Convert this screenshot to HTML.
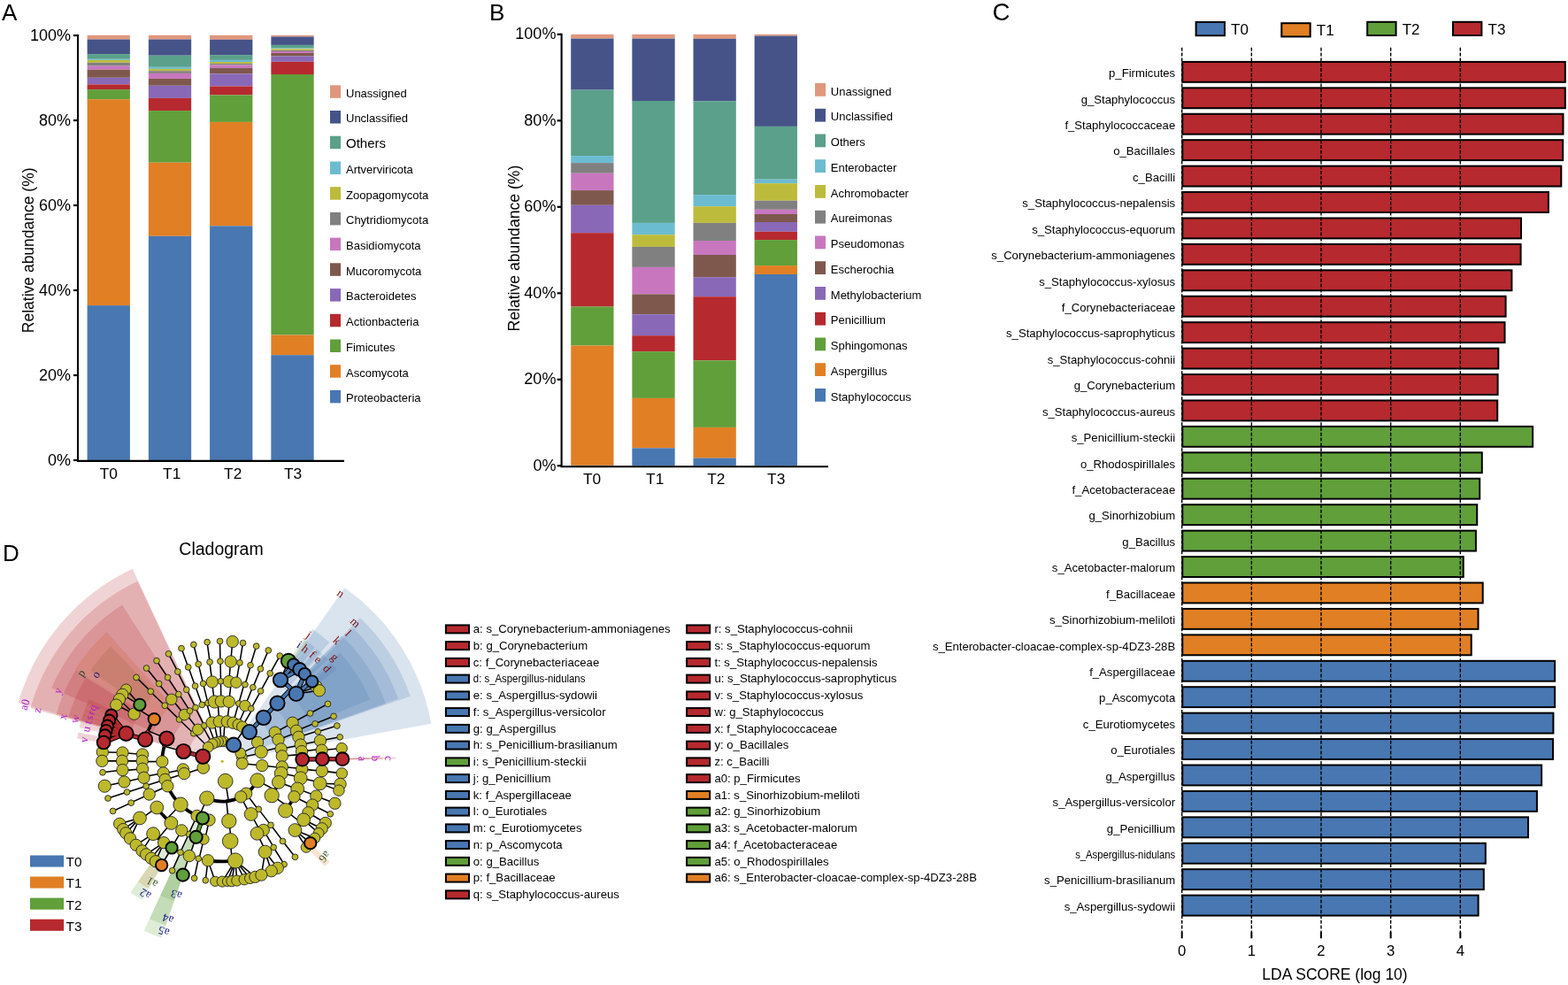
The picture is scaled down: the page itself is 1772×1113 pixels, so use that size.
<!DOCTYPE html>
<html><head><meta charset="utf-8"><title>Figure</title>
<style>html,body{margin:0;padding:0;background:#fff;}svg{display:block}</style></head>
<body><svg width="1772" height="1113" viewBox="0 0 1772 1113" style="font-family:'Liberation Sans',Arial,sans-serif"><rect width="1772" height="1113" fill="#fff"/>
<text x="2.0" y="23.0" font-size="26" text-anchor="start" >A</text>
<text x="553.0" y="23.0" font-size="26" text-anchor="start" >B</text>
<text x="1121.5" y="23.0" font-size="27.5" text-anchor="start" >C</text>
<text x="3.0" y="634.3" font-size="26" text-anchor="start" >D</text>
<rect x="98.60" y="39.80" width="48.30" height="4.70" fill="#E0977C"/>
<rect x="98.60" y="44.50" width="48.30" height="16.60" fill="#465388"/>
<rect x="98.60" y="61.10" width="48.30" height="5.70" fill="#5AA08A"/>
<rect x="98.60" y="66.80" width="48.30" height="1.10" fill="#6CBCD1"/>
<rect x="98.60" y="67.90" width="48.30" height="2.90" fill="#BDBB3B"/>
<rect x="98.60" y="70.80" width="48.30" height="3.80" fill="#808080"/>
<rect x="98.60" y="74.60" width="48.30" height="4.10" fill="#C877BF"/>
<rect x="98.60" y="78.70" width="48.30" height="9.10" fill="#7E584D"/>
<rect x="98.60" y="87.80" width="48.30" height="7.60" fill="#8968B8"/>
<rect x="98.60" y="95.40" width="48.30" height="5.70" fill="#B6292E"/>
<rect x="98.60" y="101.10" width="48.30" height="11.10" fill="#609F3A"/>
<rect x="98.60" y="112.20" width="48.30" height="232.90" fill="#E17F24"/>
<rect x="98.60" y="345.10" width="48.30" height="174.90" fill="#4877B1"/>
<rect x="167.85" y="39.80" width="48.30" height="4.70" fill="#E0977C"/>
<rect x="167.85" y="44.50" width="48.30" height="18.20" fill="#465388"/>
<rect x="167.85" y="62.70" width="48.30" height="13.10" fill="#5AA08A"/>
<rect x="167.85" y="75.80" width="48.30" height="2.10" fill="#6CBCD1"/>
<rect x="167.85" y="77.90" width="48.30" height="2.30" fill="#BDBB3B"/>
<rect x="167.85" y="80.20" width="48.30" height="2.70" fill="#808080"/>
<rect x="167.85" y="82.90" width="48.30" height="6.00" fill="#C877BF"/>
<rect x="167.85" y="88.90" width="48.30" height="7.90" fill="#7E584D"/>
<rect x="167.85" y="96.80" width="48.30" height="14.10" fill="#8968B8"/>
<rect x="167.85" y="110.90" width="48.30" height="14.20" fill="#B6292E"/>
<rect x="167.85" y="125.10" width="48.30" height="58.60" fill="#609F3A"/>
<rect x="167.85" y="183.70" width="48.30" height="83.10" fill="#E17F24"/>
<rect x="167.85" y="266.80" width="48.30" height="253.20" fill="#4877B1"/>
<rect x="237.10" y="39.80" width="48.30" height="4.90" fill="#E0977C"/>
<rect x="237.10" y="44.70" width="48.30" height="17.40" fill="#465388"/>
<rect x="237.10" y="62.10" width="48.30" height="5.80" fill="#5AA08A"/>
<rect x="237.10" y="67.90" width="48.30" height="2.10" fill="#6CBCD1"/>
<rect x="237.10" y="70.00" width="48.30" height="1.90" fill="#BDBB3B"/>
<rect x="237.10" y="71.90" width="48.30" height="1.60" fill="#808080"/>
<rect x="237.10" y="73.50" width="48.30" height="3.40" fill="#C877BF"/>
<rect x="237.10" y="76.90" width="48.30" height="6.50" fill="#7E584D"/>
<rect x="237.10" y="83.40" width="48.30" height="14.10" fill="#8968B8"/>
<rect x="237.10" y="97.50" width="48.30" height="9.90" fill="#B6292E"/>
<rect x="237.10" y="107.40" width="48.30" height="30.50" fill="#609F3A"/>
<rect x="237.10" y="137.90" width="48.30" height="117.40" fill="#E17F24"/>
<rect x="237.10" y="255.30" width="48.30" height="264.70" fill="#4877B1"/>
<rect x="306.35" y="39.80" width="48.30" height="1.70" fill="#E0977C"/>
<rect x="306.35" y="41.50" width="48.30" height="9.40" fill="#465388"/>
<rect x="306.35" y="50.90" width="48.30" height="3.60" fill="#5AA08A"/>
<rect x="306.35" y="54.50" width="48.30" height="0.80" fill="#6CBCD1"/>
<rect x="306.35" y="55.30" width="48.30" height="1.60" fill="#BDBB3B"/>
<rect x="306.35" y="56.90" width="48.30" height="1.10" fill="#808080"/>
<rect x="306.35" y="58.00" width="48.30" height="2.00" fill="#C877BF"/>
<rect x="306.35" y="60.00" width="48.30" height="3.50" fill="#7E584D"/>
<rect x="306.35" y="63.50" width="48.30" height="6.30" fill="#8968B8"/>
<rect x="306.35" y="69.80" width="48.30" height="14.20" fill="#B6292E"/>
<rect x="306.35" y="84.00" width="48.30" height="294.50" fill="#609F3A"/>
<rect x="306.35" y="378.50" width="48.30" height="22.70" fill="#E17F24"/>
<rect x="306.35" y="401.20" width="48.30" height="118.80" fill="#4877B1"/>
<path d="M88.0 39.0V520.9H389.0" fill="none" stroke="#000" stroke-width="2.1"/>
<path d="M83.0 40.0H88.0" stroke="#000" stroke-width="2.2"/>
<text x="80.0" y="46.3" font-size="18" text-anchor="end" >100%</text>
<path d="M83.0 136.0H88.0" stroke="#000" stroke-width="2.2"/>
<text x="80.0" y="142.3" font-size="18" text-anchor="end" >80%</text>
<path d="M83.0 232.0H88.0" stroke="#000" stroke-width="2.2"/>
<text x="80.0" y="238.3" font-size="18" text-anchor="end" >60%</text>
<path d="M83.0 328.0H88.0" stroke="#000" stroke-width="2.2"/>
<text x="80.0" y="334.3" font-size="18" text-anchor="end" >40%</text>
<path d="M83.0 424.0H88.0" stroke="#000" stroke-width="2.2"/>
<text x="80.0" y="430.3" font-size="18" text-anchor="end" >20%</text>
<path d="M83.0 520.0H88.0" stroke="#000" stroke-width="2.2"/>
<text x="80.0" y="526.3" font-size="18" text-anchor="end" >0%</text>
<text x="122.9" y="541.0" font-size="17.3" text-anchor="middle" >T0</text>
<text x="194.2" y="541.0" font-size="17.3" text-anchor="middle" >T1</text>
<text x="263.2" y="541.0" font-size="17.3" text-anchor="middle" >T2</text>
<text x="331.1" y="541.0" font-size="17.3" text-anchor="middle" >T3</text>
<text x="38" y="282.8" font-size="17.5" text-anchor="middle" transform="rotate(-90 38 282.8)">Relative abundance (%)</text>
<rect x="373" y="96.3" width="12" height="14.5" fill="#E0977C"/>
<text x="391.0" y="109.6" font-size="13" text-anchor="start" >Unassigned</text>
<rect x="373" y="125.0" width="12" height="14.5" fill="#465388"/>
<text x="391.0" y="138.3" font-size="13" text-anchor="start" >Unclassified</text>
<rect x="373" y="153.7" width="12" height="14.5" fill="#5AA08A"/>
<text x="391.0" y="167.0" font-size="15" text-anchor="start" >Others</text>
<rect x="373" y="182.5" width="12" height="14.5" fill="#6CBCD1"/>
<text x="391.0" y="195.8" font-size="13" text-anchor="start" >Artverviricota</text>
<rect x="373" y="211.2" width="12" height="14.5" fill="#BDBB3B"/>
<text x="391.0" y="224.5" font-size="13" text-anchor="start" >Zoopagomycota</text>
<rect x="373" y="239.9" width="12" height="14.5" fill="#808080"/>
<text x="391.0" y="253.2" font-size="13" text-anchor="start" >Chytridiomycota</text>
<rect x="373" y="268.6" width="12" height="14.5" fill="#C877BF"/>
<text x="391.0" y="281.9" font-size="13" text-anchor="start" >Basidiomycota</text>
<rect x="373" y="297.3" width="12" height="14.5" fill="#7E584D"/>
<text x="391.0" y="310.6" font-size="13" text-anchor="start" >Mucoromycota</text>
<rect x="373" y="326.1" width="12" height="14.5" fill="#8968B8"/>
<text x="391.0" y="339.4" font-size="13" text-anchor="start" >Bacteroidetes</text>
<rect x="373" y="354.8" width="12" height="14.5" fill="#B6292E"/>
<text x="391.0" y="368.1" font-size="13" text-anchor="start" >Actionbacteria</text>
<rect x="373" y="383.5" width="12" height="14.5" fill="#609F3A"/>
<text x="391.0" y="396.8" font-size="13" text-anchor="start" >Fimicutes</text>
<rect x="373" y="412.2" width="12" height="14.5" fill="#E17F24"/>
<text x="391.0" y="425.5" font-size="13" text-anchor="start" >Ascomycota</text>
<rect x="373" y="440.9" width="12" height="14.5" fill="#4877B1"/>
<text x="391.0" y="454.2" font-size="13" text-anchor="start" >Proteobacteria</text>
<rect x="645.20" y="38.80" width="48.30" height="4.80" fill="#E0977C"/>
<rect x="645.20" y="43.60" width="48.30" height="58.00" fill="#465388"/>
<rect x="645.20" y="101.60" width="48.30" height="74.50" fill="#5AA08A"/>
<rect x="645.20" y="176.10" width="48.30" height="8.00" fill="#6CBCD1"/>
<rect x="645.20" y="184.10" width="48.30" height="11.70" fill="#808080"/>
<rect x="645.20" y="195.80" width="48.30" height="19.30" fill="#C877BF"/>
<rect x="645.20" y="215.10" width="48.30" height="16.70" fill="#7E584D"/>
<rect x="645.20" y="231.80" width="48.30" height="31.40" fill="#8968B8"/>
<rect x="645.20" y="263.20" width="48.30" height="83.30" fill="#B6292E"/>
<rect x="645.20" y="346.50" width="48.30" height="44.00" fill="#609F3A"/>
<rect x="645.20" y="390.50" width="48.30" height="135.40" fill="#E17F24"/>
<rect x="645.20" y="525.90" width="48.30" height="0.40" fill="#4877B1"/>
<rect x="714.35" y="38.80" width="48.30" height="4.80" fill="#E0977C"/>
<rect x="714.35" y="43.60" width="48.30" height="70.40" fill="#465388"/>
<rect x="714.35" y="114.00" width="48.30" height="137.90" fill="#5AA08A"/>
<rect x="714.35" y="251.90" width="48.30" height="13.30" fill="#6CBCD1"/>
<rect x="714.35" y="265.20" width="48.30" height="13.70" fill="#BDBB3B"/>
<rect x="714.35" y="278.90" width="48.30" height="23.00" fill="#808080"/>
<rect x="714.35" y="301.90" width="48.30" height="30.50" fill="#C877BF"/>
<rect x="714.35" y="332.40" width="48.30" height="22.80" fill="#7E584D"/>
<rect x="714.35" y="355.20" width="48.30" height="24.00" fill="#8968B8"/>
<rect x="714.35" y="379.20" width="48.30" height="18.00" fill="#B6292E"/>
<rect x="714.35" y="397.20" width="48.30" height="52.70" fill="#609F3A"/>
<rect x="714.35" y="449.90" width="48.30" height="56.40" fill="#E17F24"/>
<rect x="714.35" y="506.30" width="48.30" height="20.00" fill="#4877B1"/>
<rect x="783.50" y="38.80" width="48.30" height="5.00" fill="#E0977C"/>
<rect x="783.50" y="43.80" width="48.30" height="70.40" fill="#465388"/>
<rect x="783.50" y="114.20" width="48.30" height="105.90" fill="#5AA08A"/>
<rect x="783.50" y="220.10" width="48.30" height="13.10" fill="#6CBCD1"/>
<rect x="783.50" y="233.20" width="48.30" height="18.70" fill="#BDBB3B"/>
<rect x="783.50" y="251.90" width="48.30" height="20.10" fill="#808080"/>
<rect x="783.50" y="272.00" width="48.30" height="16.00" fill="#C877BF"/>
<rect x="783.50" y="288.00" width="48.30" height="25.20" fill="#7E584D"/>
<rect x="783.50" y="313.20" width="48.30" height="22.00" fill="#8968B8"/>
<rect x="783.50" y="335.20" width="48.30" height="72.10" fill="#B6292E"/>
<rect x="783.50" y="407.30" width="48.30" height="75.60" fill="#609F3A"/>
<rect x="783.50" y="482.90" width="48.30" height="34.70" fill="#E17F24"/>
<rect x="783.50" y="517.60" width="48.30" height="8.70" fill="#4877B1"/>
<rect x="852.65" y="38.80" width="48.30" height="1.80" fill="#E0977C"/>
<rect x="852.65" y="40.60" width="48.30" height="102.30" fill="#465388"/>
<rect x="852.65" y="142.90" width="48.30" height="59.80" fill="#5AA08A"/>
<rect x="852.65" y="202.70" width="48.30" height="4.50" fill="#6CBCD1"/>
<rect x="852.65" y="207.20" width="48.30" height="19.50" fill="#BDBB3B"/>
<rect x="852.65" y="226.70" width="48.30" height="10.10" fill="#808080"/>
<rect x="852.65" y="236.80" width="48.30" height="5.20" fill="#C877BF"/>
<rect x="852.65" y="242.00" width="48.30" height="9.00" fill="#7E584D"/>
<rect x="852.65" y="251.00" width="48.30" height="10.80" fill="#8968B8"/>
<rect x="852.65" y="261.80" width="48.30" height="9.30" fill="#B6292E"/>
<rect x="852.65" y="271.10" width="48.30" height="29.00" fill="#609F3A"/>
<rect x="852.65" y="300.10" width="48.30" height="9.90" fill="#E17F24"/>
<rect x="852.65" y="310.00" width="48.30" height="216.30" fill="#4877B1"/>
<path d="M634.6 37.8V527.2H936.0" fill="none" stroke="#000" stroke-width="2.1"/>
<path d="M629.6 38.8H634.6" stroke="#000" stroke-width="2.2"/>
<text x="628.4" y="44.1" font-size="18" text-anchor="end" >100%</text>
<path d="M629.6 136.3H634.6" stroke="#000" stroke-width="2.2"/>
<text x="628.4" y="141.6" font-size="18" text-anchor="end" >80%</text>
<path d="M629.6 233.8H634.6" stroke="#000" stroke-width="2.2"/>
<text x="628.4" y="239.1" font-size="18" text-anchor="end" >60%</text>
<path d="M629.6 331.3H634.6" stroke="#000" stroke-width="2.2"/>
<text x="628.4" y="336.6" font-size="18" text-anchor="end" >40%</text>
<path d="M629.6 428.8H634.6" stroke="#000" stroke-width="2.2"/>
<text x="628.4" y="434.1" font-size="18" text-anchor="end" >20%</text>
<path d="M629.6 526.3H634.6" stroke="#000" stroke-width="2.2"/>
<text x="628.4" y="531.6" font-size="18" text-anchor="end" >0%</text>
<text x="669.0" y="546.7" font-size="17.3" text-anchor="middle" >T0</text>
<text x="740.2" y="546.7" font-size="17.3" text-anchor="middle" >T1</text>
<text x="809.3" y="546.7" font-size="17.3" text-anchor="middle" >T2</text>
<text x="877.2" y="546.7" font-size="17.3" text-anchor="middle" >T3</text>
<text x="587" y="280.6" font-size="17.6" text-anchor="middle" transform="rotate(-90 587 280.6)">Relative abundance (%)</text>
<rect x="921" y="94.0" width="12" height="14.8" fill="#E0977C"/>
<text x="938.8" y="107.6" font-size="13" text-anchor="start" >Unassigned</text>
<rect x="921" y="122.8" width="12" height="14.8" fill="#465388"/>
<text x="938.8" y="136.4" font-size="13" text-anchor="start" >Unclassified</text>
<rect x="921" y="151.5" width="12" height="14.8" fill="#5AA08A"/>
<text x="938.8" y="165.1" font-size="13" text-anchor="start" >Others</text>
<rect x="921" y="180.2" width="12" height="14.8" fill="#6CBCD1"/>
<text x="938.8" y="193.9" font-size="13" text-anchor="start" >Enterobacter</text>
<rect x="921" y="209.0" width="12" height="14.8" fill="#BDBB3B"/>
<text x="938.8" y="222.6" font-size="13" text-anchor="start" >Achromobacter</text>
<rect x="921" y="237.8" width="12" height="14.8" fill="#808080"/>
<text x="938.8" y="251.4" font-size="13" text-anchor="start" >Aureimonas</text>
<rect x="921" y="266.5" width="12" height="14.8" fill="#C877BF"/>
<text x="938.8" y="280.1" font-size="13" text-anchor="start" >Pseudomonas</text>
<rect x="921" y="295.2" width="12" height="14.8" fill="#7E584D"/>
<text x="938.8" y="308.9" font-size="13" text-anchor="start" >Escherochia</text>
<rect x="921" y="324.0" width="12" height="14.8" fill="#8968B8"/>
<text x="938.8" y="337.6" font-size="13" text-anchor="start" >Methylobacterium</text>
<rect x="921" y="352.8" width="12" height="14.8" fill="#B6292E"/>
<text x="938.8" y="366.4" font-size="13" text-anchor="start" >Penicillium</text>
<rect x="921" y="381.5" width="12" height="14.8" fill="#609F3A"/>
<text x="938.8" y="395.1" font-size="13" text-anchor="start" >Sphingomonas</text>
<rect x="921" y="410.2" width="12" height="14.8" fill="#E17F24"/>
<text x="938.8" y="423.9" font-size="13" text-anchor="start" >Aspergillus</text>
<rect x="921" y="439.0" width="12" height="14.8" fill="#4877B1"/>
<text x="938.8" y="452.6" font-size="13" text-anchor="start" >Staphylococcus</text>
<rect x="1336.3" y="69.90" width="432.5" height="22.9" fill="#B6292E" stroke="#000" stroke-width="2"/>
<text x="1328.2" y="87.1" font-size="13.13" text-anchor="end" >p_Firmicutes</text>
<rect x="1336.3" y="99.33" width="432.5" height="22.9" fill="#B6292E" stroke="#000" stroke-width="2"/>
<text x="1328.2" y="116.5" font-size="13.13" text-anchor="end" >g_Staphylococcus</text>
<rect x="1336.3" y="128.76" width="430.2" height="22.9" fill="#B6292E" stroke="#000" stroke-width="2"/>
<text x="1328.2" y="146.0" font-size="13.13" text-anchor="end" >f_Staphylococcaceae</text>
<rect x="1336.3" y="158.19" width="429.9" height="22.9" fill="#B6292E" stroke="#000" stroke-width="2"/>
<text x="1328.2" y="175.4" font-size="13.13" text-anchor="end" >o_Bacillales</text>
<rect x="1336.3" y="187.62" width="428.0" height="22.9" fill="#B6292E" stroke="#000" stroke-width="2"/>
<text x="1328.2" y="204.8" font-size="13.13" text-anchor="end" >c_Bacilli</text>
<rect x="1336.3" y="217.05" width="413.6" height="22.9" fill="#B6292E" stroke="#000" stroke-width="2"/>
<text x="1328.2" y="234.2" font-size="13.13" text-anchor="end" >s_Staphylococcus-nepalensis</text>
<rect x="1336.3" y="246.48" width="382.7" height="22.9" fill="#B6292E" stroke="#000" stroke-width="2"/>
<text x="1328.2" y="263.7" font-size="13.13" text-anchor="end" >s_Staphylococcus-equorum</text>
<rect x="1336.3" y="275.91" width="382.3" height="22.9" fill="#B6292E" stroke="#000" stroke-width="2"/>
<text x="1328.2" y="293.1" font-size="13.13" text-anchor="end" >s_Corynebacterium-ammoniagenes</text>
<rect x="1336.3" y="305.34" width="372.1" height="22.9" fill="#B6292E" stroke="#000" stroke-width="2"/>
<text x="1328.2" y="322.5" font-size="13.13" text-anchor="end" >s_Staphylococcus-xylosus</text>
<rect x="1336.3" y="334.77" width="365.3" height="22.9" fill="#B6292E" stroke="#000" stroke-width="2"/>
<text x="1328.2" y="352.0" font-size="13.13" text-anchor="end" >f_Corynebacteriaceae</text>
<rect x="1336.3" y="364.20" width="364.2" height="22.9" fill="#B6292E" stroke="#000" stroke-width="2"/>
<text x="1328.2" y="381.4" font-size="13.13" text-anchor="end" >s_Staphylococcus-saprophyticus</text>
<rect x="1336.3" y="393.63" width="357.0" height="22.9" fill="#B6292E" stroke="#000" stroke-width="2"/>
<text x="1328.2" y="410.8" font-size="13.13" text-anchor="end" >s_Staphylococcus-cohnii</text>
<rect x="1336.3" y="423.06" width="356.3" height="22.9" fill="#B6292E" stroke="#000" stroke-width="2"/>
<text x="1328.2" y="440.3" font-size="13.13" text-anchor="end" >g_Corynebacterium</text>
<rect x="1336.3" y="452.49" width="355.9" height="22.9" fill="#B6292E" stroke="#000" stroke-width="2"/>
<text x="1328.2" y="469.7" font-size="13.13" text-anchor="end" >s_Staphylococcus-aureus</text>
<rect x="1336.3" y="481.92" width="395.8" height="22.9" fill="#609F3A" stroke="#000" stroke-width="2"/>
<text x="1328.2" y="499.1" font-size="13.13" text-anchor="end" >s_Penicillium-steckii</text>
<rect x="1336.3" y="511.35" width="338.5" height="22.9" fill="#609F3A" stroke="#000" stroke-width="2"/>
<text x="1328.2" y="528.6" font-size="13.13" text-anchor="end" >o_Rhodospirillales</text>
<rect x="1336.3" y="540.78" width="335.9" height="22.9" fill="#609F3A" stroke="#000" stroke-width="2"/>
<text x="1328.2" y="558.0" font-size="13.13" text-anchor="end" >f_Acetobacteraceae</text>
<rect x="1336.3" y="570.21" width="332.9" height="22.9" fill="#609F3A" stroke="#000" stroke-width="2"/>
<text x="1328.2" y="587.4" font-size="13.13" text-anchor="end" >g_Sinorhizobium</text>
<rect x="1336.3" y="599.64" width="331.6" height="22.9" fill="#609F3A" stroke="#000" stroke-width="2"/>
<text x="1328.2" y="616.8" font-size="13.13" text-anchor="end" >g_Bacillus</text>
<rect x="1336.3" y="629.07" width="317.4" height="22.9" fill="#609F3A" stroke="#000" stroke-width="2"/>
<text x="1328.2" y="646.3" font-size="13.13" text-anchor="end" >s_Acetobacter-malorum</text>
<rect x="1336.3" y="658.50" width="339.4" height="22.9" fill="#E17F24" stroke="#000" stroke-width="2"/>
<text x="1328.2" y="675.7" font-size="13.13" text-anchor="end" >f_Bacillaceae</text>
<rect x="1336.3" y="687.93" width="334.2" height="22.9" fill="#E17F24" stroke="#000" stroke-width="2"/>
<text x="1328.2" y="705.1" font-size="13.13" text-anchor="end" >s_Sinorhizobium-meliloti</text>
<rect x="1336.3" y="717.36" width="326.4" height="22.9" fill="#E17F24" stroke="#000" stroke-width="2"/>
<text x="1328.2" y="734.6" font-size="13.13" text-anchor="end" >s_Enterobacter-cloacae-complex-sp-4DZ3-28B</text>
<rect x="1336.3" y="746.79" width="420.8" height="22.9" fill="#4877B1" stroke="#000" stroke-width="2"/>
<text x="1328.2" y="764.0" font-size="13.13" text-anchor="end" >f_Aspergillaceae</text>
<rect x="1336.3" y="776.22" width="420.8" height="22.9" fill="#4877B1" stroke="#000" stroke-width="2"/>
<text x="1328.2" y="793.4" font-size="13.13" text-anchor="end" >p_Ascomycota</text>
<rect x="1336.3" y="805.65" width="419.1" height="22.9" fill="#4877B1" stroke="#000" stroke-width="2"/>
<text x="1328.2" y="822.9" font-size="13.13" text-anchor="end" >c_Eurotiomycetes</text>
<rect x="1336.3" y="835.08" width="418.7" height="22.9" fill="#4877B1" stroke="#000" stroke-width="2"/>
<text x="1328.2" y="852.3" font-size="13.13" text-anchor="end" >o_Eurotiales</text>
<rect x="1336.3" y="864.51" width="405.8" height="22.9" fill="#4877B1" stroke="#000" stroke-width="2"/>
<text x="1328.2" y="881.7" font-size="13.13" text-anchor="end" >g_Aspergillus</text>
<rect x="1336.3" y="893.94" width="400.6" height="22.9" fill="#4877B1" stroke="#000" stroke-width="2"/>
<text x="1328.2" y="911.1" font-size="13.13" text-anchor="end" >s_Aspergillus-versicolor</text>
<rect x="1336.3" y="923.37" width="390.7" height="22.9" fill="#4877B1" stroke="#000" stroke-width="2"/>
<text x="1328.2" y="940.6" font-size="13.13" text-anchor="end" >g_Penicillium</text>
<rect x="1336.3" y="952.80" width="342.5" height="22.9" fill="#4877B1" stroke="#000" stroke-width="2"/>
<text x="1328.2" y="970.00" font-size="13" text-anchor="end" transform="translate(1328.2 0) scale(0.87 1) translate(-1328.2 0)">s_Aspergillus-nidulans</text>
<rect x="1336.3" y="982.23" width="340.5" height="22.9" fill="#4877B1" stroke="#000" stroke-width="2"/>
<text x="1328.2" y="999.4" font-size="13.13" text-anchor="end" >s_Penicillium-brasilianum</text>
<rect x="1336.3" y="1011.66" width="334.3" height="22.9" fill="#4877B1" stroke="#000" stroke-width="2"/>
<text x="1328.2" y="1028.9" font-size="13.13" text-anchor="end" >s_Aspergillus-sydowii</text>
<path d="M1335.70 53.8V1053" stroke="#000" stroke-width="1.4" stroke-dasharray="4 1.8"/>
<path d="M1335.70 1053V1060.3" stroke="#000" stroke-width="2"/>
<text x="1335.7" y="1079.8" font-size="16.7" text-anchor="middle" >0</text>
<path d="M1414.35 53.8V1053" stroke="#000" stroke-width="1.4" stroke-dasharray="4 1.8"/>
<path d="M1414.35 1053V1060.3" stroke="#000" stroke-width="2"/>
<text x="1414.4" y="1079.8" font-size="16.7" text-anchor="middle" >1</text>
<path d="M1493.00 53.8V1053" stroke="#000" stroke-width="1.4" stroke-dasharray="4 1.8"/>
<path d="M1493.00 1053V1060.3" stroke="#000" stroke-width="2"/>
<text x="1493.0" y="1079.8" font-size="16.7" text-anchor="middle" >2</text>
<path d="M1571.65 53.8V1053" stroke="#000" stroke-width="1.4" stroke-dasharray="4 1.8"/>
<path d="M1571.65 1053V1060.3" stroke="#000" stroke-width="2"/>
<text x="1571.7" y="1079.8" font-size="16.7" text-anchor="middle" >3</text>
<path d="M1650.30 53.8V1053" stroke="#000" stroke-width="1.4" stroke-dasharray="4 1.8"/>
<path d="M1650.30 1053V1060.3" stroke="#000" stroke-width="2"/>
<text x="1650.3" y="1079.8" font-size="16.7" text-anchor="middle" >4</text>
<text x="1508.5" y="1106.5" font-size="17.5" text-anchor="middle" >LDA SCORE (log 10)</text>
<rect x="1351.6" y="25.0" width="32.4" height="15.2" fill="#4877B1" stroke="#000" stroke-width="2"/>
<text x="1391.1" y="39.1" font-size="17" text-anchor="start" >T0</text>
<rect x="1448.3" y="26.2" width="32.4" height="15.2" fill="#E17F24" stroke="#000" stroke-width="2"/>
<text x="1487.8" y="40.3" font-size="17" text-anchor="start" >T1</text>
<rect x="1545.2" y="24.8" width="32.4" height="15.2" fill="#609F3A" stroke="#000" stroke-width="2"/>
<text x="1584.7" y="38.9" font-size="17" text-anchor="start" >T2</text>
<rect x="1642.0" y="24.8" width="32.4" height="15.2" fill="#B6292E" stroke="#000" stroke-width="2"/>
<text x="1681.5" y="38.9" font-size="17" text-anchor="start" >T3</text>
<rect x="503.9" y="706.4" width="26.1" height="9" fill="#B6292E" stroke="#000" stroke-width="2"/>
<text x="534.8" y="715.0" font-size="13.15" text-anchor="start" >a: s_Corynebacterium-ammoniagenes</text>
<rect x="503.9" y="725.1" width="26.1" height="9" fill="#B6292E" stroke="#000" stroke-width="2"/>
<text x="534.8" y="733.8" font-size="13.15" text-anchor="start" >b: g_Corynebacterium</text>
<rect x="503.9" y="743.9" width="26.1" height="9" fill="#B6292E" stroke="#000" stroke-width="2"/>
<text x="534.8" y="752.5" font-size="13.15" text-anchor="start" >c: f_Corynebacteriaceae</text>
<rect x="503.9" y="762.6" width="26.1" height="9" fill="#4877B1" stroke="#000" stroke-width="2"/>
<text x="534.8" y="771.2" font-size="13.15" transform="translate(534.8 0) scale(0.866 1) translate(-534.8 0)">d: s_Aspergillus-nidulans</text>
<rect x="503.9" y="781.4" width="26.1" height="9" fill="#4877B1" stroke="#000" stroke-width="2"/>
<text x="534.8" y="790.0" font-size="13.15" text-anchor="start" >e: s_Aspergillus-sydowii</text>
<rect x="503.9" y="800.1" width="26.1" height="9" fill="#4877B1" stroke="#000" stroke-width="2"/>
<text x="534.8" y="808.8" font-size="13.15" text-anchor="start" >f: s_Aspergillus-versicolor</text>
<rect x="503.9" y="818.9" width="26.1" height="9" fill="#4877B1" stroke="#000" stroke-width="2"/>
<text x="534.8" y="827.5" font-size="13.15" text-anchor="start" >g: g_Aspergillus</text>
<rect x="503.9" y="837.6" width="26.1" height="9" fill="#4877B1" stroke="#000" stroke-width="2"/>
<text x="534.8" y="846.2" font-size="13.15" text-anchor="start" >h: s_Penicillium-brasilianum</text>
<rect x="503.9" y="856.4" width="26.1" height="9" fill="#609F3A" stroke="#000" stroke-width="2"/>
<text x="534.8" y="865.0" font-size="13.15" text-anchor="start" >i: s_Penicillium-steckii</text>
<rect x="503.9" y="875.1" width="26.1" height="9" fill="#4877B1" stroke="#000" stroke-width="2"/>
<text x="534.8" y="883.8" font-size="13.15" text-anchor="start" >j: g_Penicillium</text>
<rect x="503.9" y="893.9" width="26.1" height="9" fill="#4877B1" stroke="#000" stroke-width="2"/>
<text x="534.8" y="902.5" font-size="13.15" text-anchor="start" >k: f_Aspergillaceae</text>
<rect x="503.9" y="912.6" width="26.1" height="9" fill="#4877B1" stroke="#000" stroke-width="2"/>
<text x="534.8" y="921.2" font-size="13.15" text-anchor="start" >l: o_Eurotiales</text>
<rect x="503.9" y="931.4" width="26.1" height="9" fill="#4877B1" stroke="#000" stroke-width="2"/>
<text x="534.8" y="940.0" font-size="13.15" text-anchor="start" >m: c_Eurotiomycetes</text>
<rect x="503.9" y="950.1" width="26.1" height="9" fill="#4877B1" stroke="#000" stroke-width="2"/>
<text x="534.8" y="958.8" font-size="13.15" text-anchor="start" >n: p_Ascomycota</text>
<rect x="503.9" y="968.9" width="26.1" height="9" fill="#609F3A" stroke="#000" stroke-width="2"/>
<text x="534.8" y="977.5" font-size="13.15" text-anchor="start" >o: g_Bacillus</text>
<rect x="503.9" y="987.6" width="26.1" height="9" fill="#E17F24" stroke="#000" stroke-width="2"/>
<text x="534.8" y="996.2" font-size="13.15" text-anchor="start" >p: f_Bacillaceae</text>
<rect x="503.9" y="1006.4" width="26.1" height="9" fill="#B6292E" stroke="#000" stroke-width="2"/>
<text x="534.8" y="1015.0" font-size="13.15" text-anchor="start" >q: s_Staphylococcus-aureus</text>
<rect x="776.1" y="706.4" width="26.1" height="9" fill="#B6292E" stroke="#000" stroke-width="2"/>
<text x="807.4" y="715.0" font-size="13.15" text-anchor="start" >r: s_Staphylococcus-cohnii</text>
<rect x="776.1" y="725.1" width="26.1" height="9" fill="#B6292E" stroke="#000" stroke-width="2"/>
<text x="807.4" y="733.8" font-size="13.15" text-anchor="start" >s: s_Staphylococcus-equorum</text>
<rect x="776.1" y="743.9" width="26.1" height="9" fill="#B6292E" stroke="#000" stroke-width="2"/>
<text x="807.4" y="752.5" font-size="13.15" text-anchor="start" >t: s_Staphylococcus-nepalensis</text>
<rect x="776.1" y="762.6" width="26.1" height="9" fill="#B6292E" stroke="#000" stroke-width="2"/>
<text x="807.4" y="771.2" font-size="13.15" text-anchor="start" >u: s_Staphylococcus-saprophyticus</text>
<rect x="776.1" y="781.4" width="26.1" height="9" fill="#B6292E" stroke="#000" stroke-width="2"/>
<text x="807.4" y="790.0" font-size="13.15" text-anchor="start" >v: s_Staphylococcus-xylosus</text>
<rect x="776.1" y="800.1" width="26.1" height="9" fill="#B6292E" stroke="#000" stroke-width="2"/>
<text x="807.4" y="808.8" font-size="13.15" text-anchor="start" >w: g_Staphylococcus</text>
<rect x="776.1" y="818.9" width="26.1" height="9" fill="#B6292E" stroke="#000" stroke-width="2"/>
<text x="807.4" y="827.5" font-size="13.15" text-anchor="start" >x: f_Staphylococcaceae</text>
<rect x="776.1" y="837.6" width="26.1" height="9" fill="#B6292E" stroke="#000" stroke-width="2"/>
<text x="807.4" y="846.2" font-size="13.15" text-anchor="start" >y: o_Bacillales</text>
<rect x="776.1" y="856.4" width="26.1" height="9" fill="#B6292E" stroke="#000" stroke-width="2"/>
<text x="807.4" y="865.0" font-size="13.15" text-anchor="start" >z: c_Bacilli</text>
<rect x="776.1" y="875.1" width="26.1" height="9" fill="#B6292E" stroke="#000" stroke-width="2"/>
<text x="807.4" y="883.8" font-size="13.15" text-anchor="start" >a0: p_Firmicutes</text>
<rect x="776.1" y="893.9" width="26.1" height="9" fill="#E17F24" stroke="#000" stroke-width="2"/>
<text x="807.4" y="902.5" font-size="13.15" text-anchor="start" >a1: s_Sinorhizobium-meliloti</text>
<rect x="776.1" y="912.6" width="26.1" height="9" fill="#609F3A" stroke="#000" stroke-width="2"/>
<text x="807.4" y="921.2" font-size="13.15" text-anchor="start" >a2: g_Sinorhizobium</text>
<rect x="776.1" y="931.4" width="26.1" height="9" fill="#609F3A" stroke="#000" stroke-width="2"/>
<text x="807.4" y="940.0" font-size="13.15" text-anchor="start" >a3: s_Acetobacter-malorum</text>
<rect x="776.1" y="950.1" width="26.1" height="9" fill="#609F3A" stroke="#000" stroke-width="2"/>
<text x="807.4" y="958.8" font-size="13.15" text-anchor="start" >a4: f_Acetobacteraceae</text>
<rect x="776.1" y="968.9" width="26.1" height="9" fill="#609F3A" stroke="#000" stroke-width="2"/>
<text x="807.4" y="977.5" font-size="13.15" text-anchor="start" >a5: o_Rhodospirillales</text>
<rect x="776.1" y="987.6" width="26.1" height="9" fill="#E17F24" stroke="#000" stroke-width="2"/>
<text x="807.4" y="996.2" font-size="13.15" text-anchor="start" >a6: s_Enterobacter-cloacae-complex-sp-4DZ3-28B</text>
<rect x="34" y="966.5" width="38.1" height="13.1" fill="#4877B1"/>
<text x="74.6" y="979.4" font-size="15.3" text-anchor="start" >T0</text>
<rect x="34" y="990.5" width="38.1" height="13.1" fill="#E17F24"/>
<text x="74.6" y="1003.4" font-size="15.3" text-anchor="start" >T1</text>
<rect x="34" y="1014.6" width="38.1" height="13.1" fill="#609F3A"/>
<text x="74.6" y="1027.5" font-size="15.3" text-anchor="start" >T2</text>
<rect x="34" y="1038.7" width="38.1" height="13.1" fill="#B6292E"/>
<text x="74.6" y="1051.6" font-size="15.3" text-anchor="start" >T3</text>
<text x="250.0" y="626.7" font-size="19.5" text-anchor="middle" >Cladogram</text>
<g>
<path d="M100.75 790.15A166.00 166.00 0 0 0 97.84 796.77L131.10 810.55A130.00 130.00 0 0 1 133.38 805.36Z" fill="#B6292E" fill-opacity="0.2"/>
<path d="M98.17 795.97A166.00 166.00 0 0 0 95.61 802.44L129.35 814.99A130.00 130.00 0 0 1 131.36 809.92Z" fill="#B6292E" fill-opacity="0.2"/>
<path d="M95.81 801.89A166.00 166.00 0 0 0 93.50 808.45L127.70 819.70A130.00 130.00 0 0 1 129.51 814.56Z" fill="#B6292E" fill-opacity="0.2"/>
<path d="M93.78 807.63A166.00 166.00 0 0 0 91.79 813.99L126.36 824.03A130.00 130.00 0 0 1 127.92 819.05Z" fill="#B6292E" fill-opacity="0.2"/>
<path d="M91.39 815.38A166.00 166.00 0 0 0 89.65 822.11L124.69 830.39A130.00 130.00 0 0 1 126.05 825.12Z" fill="#B6292E" fill-opacity="0.2"/>
<path d="M88.47 827.49A166.00 166.00 0 0 0 87.20 834.62L122.77 840.19A130.00 130.00 0 0 1 123.76 834.60Z" fill="#B6292E" fill-opacity="0.2"/>
<path d="M380.57 756.28A166.00 166.00 0 0 0 375.33 750.09L348.41 773.99A130.00 130.00 0 0 1 352.51 778.84Z" fill="#4877B1" fill-opacity="0.2"/>
<path d="M370.61 744.99A166.00 166.00 0 0 0 365.05 739.49L340.36 765.69A130.00 130.00 0 0 1 344.71 769.99Z" fill="#4877B1" fill-opacity="0.2"/>
<path d="M363.99 738.50A166.00 166.00 0 0 0 358.12 733.32L334.94 760.86A130.00 130.00 0 0 1 339.53 764.92Z" fill="#4877B1" fill-opacity="0.2"/>
<path d="M355.89 731.48A166.00 166.00 0 0 0 349.71 726.69L328.34 755.66A130.00 130.00 0 0 1 333.19 759.41Z" fill="#4877B1" fill-opacity="0.2"/>
<path d="M349.01 726.17A166.00 166.00 0 0 0 342.58 721.72L322.76 751.77A130.00 130.00 0 0 1 327.80 755.26Z" fill="#609F3A" fill-opacity="0.2"/>
<path d="M417.18 857.98A166.00 166.00 0 0 0 417.15 856.24L381.16 857.12A130.00 130.00 0 0 1 381.19 858.48Z" fill="#B6292E" fill-opacity="0.2"/>
<path d="M155.99 996.28A166.00 166.00 0 0 0 167.95 1003.92L186.00 972.77A130.00 130.00 0 0 1 176.64 966.79Z" fill="#E17F24" fill-opacity="0.2"/>
<path d="M367.14 979.10A166.00 166.00 0 0 0 372.60 973.51L346.28 948.96A130.00 130.00 0 0 1 341.99 953.34Z" fill="#E17F24" fill-opacity="0.2"/>
<path d="M181.42 1012.02A167.00 167.00 0 0 0 196.83 1018.20L208.88 983.22A130.00 130.00 0 0 1 196.88 978.41Z" fill="#609F3A" fill-opacity="0.2"/>
<path d="M96.87 765.73A181.00 181.00 0 0 0 77.30 810.11L147.44 830.35A108.00 108.00 0 0 1 159.11 803.87Z" fill="#B6292E" fill-opacity="0.2"/>
<path d="M125.01 730.54A181.00 181.00 0 0 0 102.03 757.78L162.19 799.13A108.00 108.00 0 0 1 175.91 782.87Z" fill="#609F3A" fill-opacity="0.2"/>
<path d="M418.06 790.16A181.00 181.00 0 0 0 384.01 737.32L330.44 786.92A108.00 108.00 0 0 1 350.76 818.45Z" fill="#4877B1" fill-opacity="0.2"/>
<path d="M372.31 725.79A181.00 181.00 0 0 0 353.20 710.78L312.06 771.08A108.00 108.00 0 0 1 323.47 780.04Z" fill="#4877B1" fill-opacity="0.2"/>
<path d="M432.18 857.77A181.00 181.00 0 0 0 432.15 855.88L359.17 857.66A108.00 108.00 0 0 1 359.19 858.79Z" fill="#B6292E" fill-opacity="0.2"/>
<path d="M147.38 1008.57A181.00 181.00 0 0 0 160.43 1016.89L197.04 953.74A108.00 108.00 0 0 1 189.25 948.77Z" fill="#609F3A" fill-opacity="0.2"/>
<path d="M85.83 756.97A195.00 195.00 0 0 0 63.48 807.53L169.37 837.30A85.00 85.00 0 0 1 179.12 815.26Z" fill="#B6292E" fill-opacity="0.2"/>
<path d="M120.56 714.19A196.00 196.00 0 0 0 84.98 756.44L179.12 815.26A85.00 85.00 0 0 1 194.54 796.93Z" fill="#E17F24" fill-opacity="0.2"/>
<path d="M436.07 795.20A196.00 196.00 0 0 0 386.12 718.13L309.71 798.64A85.00 85.00 0 0 1 331.37 832.07Z" fill="#4877B1" fill-opacity="0.2"/>
<path d="M447.18 857.56A196.00 196.00 0 0 0 447.14 855.51L336.17 858.22A85.00 85.00 0 0 1 336.19 859.11Z" fill="#B6292E" fill-opacity="0.2"/>
<path d="M168.99 1038.22A196.00 196.00 0 0 0 187.39 1045.62L223.53 940.67A85.00 85.00 0 0 1 215.55 937.46Z" fill="#609F3A" fill-opacity="0.2"/>
<path d="M138.06 683.38A210.00 210.00 0 0 0 58.18 777.57L194.21 835.88A62.00 62.00 0 0 1 217.80 808.07Z" fill="#B6292E" fill-opacity="0.2"/>
<path d="M449.97 789.52A211.00 211.00 0 0 0 399.09 709.80L294.66 816.08A62.00 62.00 0 0 1 309.61 839.50Z" fill="#4877B1" fill-opacity="0.2"/>
<path d="M162.70 1051.84A211.00 211.00 0 0 0 182.51 1059.80L231.01 918.92A62.00 62.00 0 0 1 225.19 916.58Z" fill="#609F3A" fill-opacity="0.2"/>
<path d="M155.40 656.71A225.00 225.00 0 0 0 34.38 800.17L212.65 849.61A40.00 40.00 0 0 1 234.17 824.11Z" fill="#B6292E" fill-opacity="0.2"/>
<path d="M463.81 786.68A225.00 225.00 0 0 0 406.93 697.90L278.89 831.43A40.00 40.00 0 0 1 289.00 847.21Z" fill="#4877B1" fill-opacity="0.2"/>
<path d="M149.77 642.79A240.00 240.00 0 0 0 20.50 794.15L233.90 855.34A18.00 18.00 0 0 1 243.59 843.99Z" fill="#B6292E" fill-opacity="0.2"/>
<path d="M487.41 817.80A240.00 240.00 0 0 0 389.54 664.19L261.58 845.59A18.00 18.00 0 0 1 268.92 857.11Z" fill="#4877B1" fill-opacity="0.2"/>
</g>
<path d="M170.27 781.22L154.07 765.42M179.72 772.59L165.50 754.98M189.56 765.42L177.03 746.57M200.84 758.97L190.51 738.84M212.74 753.89L205.03 732.61M224.20 750.42L218.87 728.43M237.08 748.03L234.12 725.60M248.93 747.17L248.53 724.55M186.27 797.22L170.04 781.46M193.81 790.30L179.46 772.80M201.80 784.45L189.45 765.49M210.75 779.32L200.63 759.08M220.54 775.13L212.88 753.84M229.59 772.40L224.19 750.42M239.80 770.50L236.95 748.05M249.47 769.80L249.04 747.17M202.54 812.95L186.33 797.17M208.43 807.57L194.18 790.00M214.51 803.18L202.29 784.13M220.98 799.51L210.90 779.25M228.27 796.40L220.62 775.10M234.95 794.38L229.54 772.41M242.44 792.98L239.52 770.54M249.88 792.42L249.44 769.80M218.75 828.75L202.52 812.98M223.73 824.33L209.99 806.35M230.88 819.86L220.72 799.64M239.54 816.57L233.71 794.70M247.79 815.17L246.08 792.60M157.89 796.30L142.55 778.87M157.89 796.30L138.32 784.83M151.56 806.68L134.90 790.22M151.56 806.68L131.31 796.55M174.26 812.62L155.02 800.70M188.41 834.49L167.48 825.88M207.37 849.01L185.45 843.37M138.48 850.48L115.82 849.83M161.01 852.53L138.47 850.59M138.05 859.88L115.42 859.88M160.68 859.88L138.05 859.78M183.31 860.55L160.68 860.64M260.76 747.55L262.75 725.01M270.90 748.88L274.51 726.54M283.00 751.71L289.68 730.09M294.46 755.74L303.26 734.90M305.22 760.88L316.19 741.09M258.75 770.10L260.64 747.54M266.88 771.15L270.80 748.86M276.98 773.53L283.43 751.84M285.85 776.67L294.51 755.77M294.58 780.85L305.42 760.99M258.77 792.83L261.29 770.34M269.71 794.98L275.89 773.21M276.95 797.48L285.54 776.55M283.76 800.73L294.61 780.87M256.74 815.38L259.51 792.92M263.48 816.74L269.62 794.96M269.17 818.76L278.15 797.99M273.80 821.09L285.11 801.48M264.00 841.64L276.80 822.97M334.70 783.94L357.54 775.87M334.70 783.94L360.89 780.27M316.98 768.24L325.96 746.95M350.49 806.04L370.46 795.40M356.08 817.84L377.05 809.32M359.27 826.76L380.87 820.01M361.91 836.95L384.18 832.84M363.64 847.67L386.18 845.60M363.83 871.14L386.30 873.87M361.56 885.27L384.53 885.96M361.56 885.27L382.95 893.14M330.56 816.77L350.41 805.88M334.88 825.77L355.80 817.14M337.45 832.82L359.01 825.96M339.77 841.59L361.91 836.91M341.03 849.11L363.48 846.31M341.29 869.13L363.81 871.34M339.71 879.29L361.83 884.04M336.21 891.39L357.47 899.16M310.75 827.70L330.60 816.83M314.52 835.80L335.62 827.63M317.64 846.34L339.79 841.69M318.83 854.35L341.37 852.37M318.81 866.45L341.35 868.50M317.73 873.81L339.91 878.32M314.89 883.81L336.12 891.65M307.16 898.73L325.82 911.55M291.06 838.86L310.99 828.15M295.18 849.61L317.17 844.27M296.21 865.09L318.71 867.49M290.97 881.90L310.86 892.70M278.19 896.64L291.68 914.80M357.32 899.57L378.42 907.74M353.08 909.53L373.27 919.75M348.40 918.23L367.74 929.97M343.10 926.31L363.74 936.27M343.10 926.31L360.10 941.40M333.42 938.04L355.72 946.98M333.42 938.04L350.72 952.66M333.42 938.04L346.08 957.42M319.48 950.53L333.44 968.34M309.16 957.48L321.10 976.70M299.61 962.57L313.76 980.81M299.61 962.57L306.71 984.22M299.61 962.57L295.41 988.68M332.44 900.22L352.76 910.19M322.67 915.85L340.54 929.74M306.01 932.34L319.71 950.35M297.72 937.95L309.34 957.37M290.56 941.81L300.41 962.19M260.18 950.37L262.43 972.89M292.28 914.35L305.97 932.37M283.67 919.92L294.49 939.80M258.80 927.76L261.34 950.25M272.21 900.39L282.72 920.43M233.78 902.07L225.07 922.96M265.96 972.48L251.20 996.08M265.96 972.48L256.89 995.96M265.96 972.48L261.85 995.66M265.96 972.48L267.75 995.07M265.96 972.48L276.18 993.76M265.96 972.48L282.67 992.38M265.96 972.48L288.40 990.89M235.01 972.29L232.28 994.76M235.01 972.29L243.15 995.84M221.63 945.86L214.24 967.24M213.86 967.11L206.71 988.59M194.10 957.99L182.66 977.51M236.50 926.58L231.60 948.67M230.24 948.36L225.00 970.37M213.28 942.49L203.80 963.04M203.97 963.12L194.65 983.75M224.27 970.20L219.57 992.34M138.47 870.07L116.00 872.78M140.45 883.50L118.32 888.19M143.51 895.01L121.98 902.00M148.20 907.14L127.57 916.45M157.97 924.41L135.18 930.84M157.97 924.41L139.24 937.12M157.97 924.41L142.28 941.37M157.97 924.41L147.03 947.39M173.10 942.17L153.72 954.82M173.10 942.17L160.57 961.40M185.12 952.15L165.20 965.37M185.12 952.15L170.90 969.79M185.12 952.15L175.92 973.30M161.07 868.75L138.54 870.86M162.59 878.80L140.44 883.43M165.11 888.26L143.58 895.25M168.71 897.57L148.09 906.89M177.23 912.47L158.73 925.52M193.38 929.95L178.93 947.36M205.31 938.33L193.84 957.83M184.60 873.46L162.40 877.85M186.51 880.90L164.95 887.76M189.33 888.26L168.71 897.57M204.08 909.17L188.37 925.46M222.62 921.88L213.09 942.41M206.87 869.41L184.70 873.97M208.11 874.15L186.57 881.07M273.34 855.59L295.47 850.89M271.87 851.10L292.55 841.89M252.62 837.71L254.04 815.13M249.86 837.71L248.52 815.12M246.49 838.16L241.79 816.03M243.09 839.17L234.98 818.05M240.09 840.58L228.98 820.87M235.25 844.24L219.31 828.18M229.74 867.48L208.28 874.66M254.74 882.65L258.28 905.00M273.71 862.67L296.21 865.03M255.93 905.31L258.30 927.82" fill="none" stroke="#000" stroke-width="1.55"/>
<path d="M194.18 790.00A90.52 90.52 0 0 0 193.81 790.30M202.29 784.13A90.52 90.52 0 0 0 201.80 784.45M209.99 806.35A67.89 67.89 0 0 0 208.43 807.57M209.99 806.35A67.89 67.89 0 0 1 214.51 803.18M233.71 794.70A67.89 67.89 0 0 0 228.27 796.40M233.71 794.70A67.89 67.89 0 0 1 234.95 794.38M246.08 792.60A67.89 67.89 0 0 0 242.44 792.98M246.08 792.60A67.89 67.89 0 0 1 249.88 792.42M155.02 800.70A113.15 113.15 0 0 1 157.89 796.30M155.02 800.70A113.15 113.15 0 0 0 151.56 806.68M167.48 825.88A90.52 90.52 0 0 1 174.26 812.62M185.45 843.37A67.89 67.89 0 0 0 183.31 860.55M160.68 860.64A90.52 90.52 0 0 1 161.01 852.53M160.68 860.64A90.52 90.52 0 0 1 160.68 859.88M160.68 860.64A90.52 90.52 0 0 0 161.07 868.75M261.29 770.34A90.52 90.52 0 0 0 258.75 770.10M261.29 770.34A90.52 90.52 0 0 1 266.88 771.15M275.89 773.21A90.52 90.52 0 0 1 276.98 773.53M259.51 792.92A67.89 67.89 0 0 0 258.77 792.83M278.15 797.99A67.89 67.89 0 0 0 276.95 797.48M285.11 801.48A67.89 67.89 0 0 0 283.76 800.73M276.80 822.97A45.26 45.26 0 0 0 263.48 816.74M276.80 822.97A45.26 45.26 0 0 0 269.17 818.76M276.80 822.97A45.26 45.26 0 0 0 273.80 821.09M355.80 817.14A113.15 113.15 0 0 1 356.08 817.84M359.01 825.96A113.15 113.15 0 0 1 359.27 826.76M363.48 846.31A113.15 113.15 0 0 1 363.64 847.67M361.83 884.04A113.15 113.15 0 0 1 361.56 885.27M335.62 827.63A90.52 90.52 0 0 0 334.88 825.77M335.62 827.63A90.52 90.52 0 0 1 337.45 832.82M341.37 852.37A90.52 90.52 0 0 0 341.03 849.11M341.37 852.37A90.52 90.52 0 0 1 341.69 858.11M341.35 868.50A90.52 90.52 0 0 1 341.29 869.13M339.91 878.32A90.52 90.52 0 0 1 339.71 879.29M325.82 911.55A90.52 90.52 0 0 0 332.44 900.22M325.82 911.55A90.52 90.52 0 0 1 322.67 915.85M310.99 828.15A67.89 67.89 0 0 0 310.75 827.70M310.99 828.15A67.89 67.89 0 0 1 314.52 835.80M317.17 844.27A67.89 67.89 0 0 1 317.64 846.34M317.17 844.27A67.89 67.89 0 0 1 318.83 854.35M318.71 867.49A67.89 67.89 0 0 0 318.81 866.45M310.86 892.70A67.89 67.89 0 0 0 317.73 873.81M310.86 892.70A67.89 67.89 0 0 0 314.89 883.81M310.86 892.70A67.89 67.89 0 0 1 307.16 898.73M291.68 914.80A67.89 67.89 0 0 0 292.28 914.35M352.76 910.19A113.15 113.15 0 0 0 353.08 909.53M352.76 910.19A113.15 113.15 0 0 1 348.40 918.23M340.54 929.74A113.15 113.15 0 0 0 343.10 926.31M340.54 929.74A113.15 113.15 0 0 1 333.42 938.04M300.41 962.19A113.15 113.15 0 0 1 299.61 962.57M262.43 972.89A113.15 113.15 0 0 0 265.96 972.48M262.43 972.89A113.15 113.15 0 0 1 235.01 972.29M294.49 939.80A90.52 90.52 0 0 0 297.72 937.95M294.49 939.80A90.52 90.52 0 0 1 290.56 941.81M261.34 950.25A90.52 90.52 0 0 1 260.18 950.37M282.72 920.43A67.89 67.89 0 0 0 283.67 919.92M225.07 922.96A67.89 67.89 0 0 0 228.99 924.45M225.07 922.96A67.89 67.89 0 0 0 236.50 926.58M225.07 922.96A67.89 67.89 0 0 1 189.33 888.26M225.07 922.96A67.89 67.89 0 0 1 204.08 909.17M225.07 922.96A67.89 67.89 0 0 1 222.62 921.88M231.60 948.67A90.52 90.52 0 0 1 230.24 948.36M225.00 970.37A113.15 113.15 0 0 1 224.27 970.20M138.54 870.86A113.15 113.15 0 0 1 138.47 870.07M158.73 925.52A113.15 113.15 0 0 1 157.97 924.41M178.93 947.36A113.15 113.15 0 0 1 173.10 942.17M178.93 947.36A113.15 113.15 0 0 0 185.12 952.15M162.40 877.85A90.52 90.52 0 0 0 162.59 878.80M164.95 887.76A90.52 90.52 0 0 0 165.11 888.26M188.37 925.46A90.52 90.52 0 0 1 177.23 912.47M188.37 925.46A90.52 90.52 0 0 0 193.38 929.95M213.09 942.41A90.52 90.52 0 0 1 205.31 938.33M184.70 873.97A67.89 67.89 0 0 1 184.60 873.46M295.47 850.89A45.26 45.26 0 0 0 295.18 849.61M292.55 841.89A45.26 45.26 0 0 0 291.06 838.86M254.04 815.13A45.26 45.26 0 0 1 256.74 815.38M248.52 815.12A45.26 45.26 0 0 0 247.79 815.17M241.79 816.03A45.26 45.26 0 0 0 239.54 816.57M234.98 818.05A45.26 45.26 0 0 0 230.88 819.86M228.98 820.87A45.26 45.26 0 0 0 223.73 824.33M219.31 828.18A45.26 45.26 0 0 0 218.75 828.75M208.28 874.66A45.26 45.26 0 0 1 206.87 869.41M208.28 874.66A45.26 45.26 0 0 1 208.11 874.15M258.28 905.00A45.26 45.26 0 0 0 290.97 881.90M258.28 905.00A45.26 45.26 0 0 0 278.19 896.64M258.28 905.00A45.26 45.26 0 0 0 272.21 900.39M258.28 905.00A45.26 45.26 0 0 1 233.78 902.07M258.28 905.00A45.26 45.26 0 0 1 255.93 905.31M258.30 927.82A67.89 67.89 0 0 0 258.80 927.76" fill="none" stroke="#000" stroke-width="3.8"/>
<path d="M142.52 828.82L125.80 808.23" fill="none" stroke="#000" stroke-width="5.2"/>
<path d="M142.52 828.82L123.50 814.17" fill="none" stroke="#000" stroke-width="5.2"/>
<path d="M142.52 828.82L121.47 820.21" fill="none" stroke="#000" stroke-width="5.2"/>
<path d="M142.52 828.82L119.94 825.54" fill="none" stroke="#000" stroke-width="5.2"/>
<path d="M142.52 828.82L118.63 830.94" fill="none" stroke="#000" stroke-width="5.2"/>
<path d="M142.52 828.82L117.10 838.99" fill="none" stroke="#000" stroke-width="5.2"/>
<path d="M164.12 835.57L142.35 829.39" fill="none" stroke="#000" stroke-width="5.2"/>
<path d="M167.48 825.88A90.52 90.52 0 0 0 164.12 835.57" fill="none" stroke="#000" stroke-width="5.2"/>
<path d="M185.45 843.37A67.89 67.89 0 0 1 188.41 834.49" fill="none" stroke="#000" stroke-width="5.2"/>
<path d="M229.25 854.79L207.30 849.28" fill="none" stroke="#000" stroke-width="5.2"/>
<path d="M207.30 849.28A45.26 45.26 0 0 1 207.37 849.01" fill="none" stroke="#000" stroke-width="5.2"/>
<path d="M276.80 822.97A45.26 45.26 0 0 1 281.91 827.06" fill="none" stroke="#000" stroke-width="5.2"/>
<path d="M281.91 827.06L297.27 810.44" fill="none" stroke="#000" stroke-width="5.2"/>
<path d="M297.27 810.44A67.89 67.89 0 0 1 297.84 810.96" fill="none" stroke="#000" stroke-width="5.2"/>
<path d="M297.84 810.96L313.38 794.52" fill="none" stroke="#000" stroke-width="5.2"/>
<path d="M313.49 794.62L329.07 778.21" fill="none" stroke="#000" stroke-width="5.2"/>
<path d="M329.07 778.21A113.15 113.15 0 0 1 334.70 783.94" fill="none" stroke="#000" stroke-width="5.2"/>
<path d="M329.07 778.21A113.15 113.15 0 0 0 316.98 768.24" fill="none" stroke="#000" stroke-width="5.2"/>
<path d="M334.70 783.94L344.34 761.50" fill="none" stroke="#000" stroke-width="5.2"/>
<path d="M334.70 783.94L352.65 770.06" fill="none" stroke="#000" stroke-width="5.2"/>
<path d="M316.98 768.24L331.72 750.97" fill="none" stroke="#000" stroke-width="5.2"/>
<path d="M316.98 768.24L338.66 756.44" fill="none" stroke="#000" stroke-width="5.2"/>
<path d="M364.32 857.71L386.96 857.71" fill="none" stroke="#000" stroke-width="5.2"/>
<path d="M341.69 858.11L364.32 857.57" fill="none" stroke="#000" stroke-width="5.2"/>
<path d="M228.99 924.45L221.59 945.84" fill="none" stroke="#000" stroke-width="5.2"/>
<path d="M142.52 828.82L125.80 808.23" fill="none" stroke="#B6292E" stroke-width="3.3"/>
<path d="M142.52 828.82L123.50 814.17" fill="none" stroke="#B6292E" stroke-width="3.3"/>
<path d="M142.52 828.82L121.47 820.21" fill="none" stroke="#B6292E" stroke-width="3.3"/>
<path d="M142.52 828.82L119.94 825.54" fill="none" stroke="#B6292E" stroke-width="3.3"/>
<path d="M142.52 828.82L118.63 830.94" fill="none" stroke="#B6292E" stroke-width="3.3"/>
<path d="M142.52 828.82L117.10 838.99" fill="none" stroke="#B6292E" stroke-width="3.3"/>
<path d="M164.12 835.57L142.35 829.39" fill="none" stroke="#B6292E" stroke-width="3.3"/>
<path d="M167.48 825.88A90.52 90.52 0 0 0 164.12 835.57" fill="none" stroke="#B6292E" stroke-width="3.3"/>
<path d="M185.45 843.37A67.89 67.89 0 0 1 188.41 834.49" fill="none" stroke="#B6292E" stroke-width="3.3"/>
<path d="M229.25 854.79L207.30 849.28" fill="none" stroke="#B6292E" stroke-width="3.3"/>
<path d="M207.30 849.28A45.26 45.26 0 0 1 207.37 849.01" fill="none" stroke="#B6292E" stroke-width="3.3"/>
<path d="M276.80 822.97A45.26 45.26 0 0 1 281.91 827.06" fill="none" stroke="#4877B1" stroke-width="3.3"/>
<path d="M281.91 827.06L297.27 810.44" fill="none" stroke="#4877B1" stroke-width="3.3"/>
<path d="M297.27 810.44A67.89 67.89 0 0 1 297.84 810.96" fill="none" stroke="#4877B1" stroke-width="3.3"/>
<path d="M297.84 810.96L313.38 794.52" fill="none" stroke="#4877B1" stroke-width="3.3"/>
<path d="M313.49 794.62L329.07 778.21" fill="none" stroke="#4877B1" stroke-width="3.3"/>
<path d="M329.07 778.21A113.15 113.15 0 0 1 334.70 783.94" fill="none" stroke="#4877B1" stroke-width="3.3"/>
<path d="M329.07 778.21A113.15 113.15 0 0 0 316.98 768.24" fill="none" stroke="#4877B1" stroke-width="3.3"/>
<path d="M334.70 783.94L344.34 761.50" fill="none" stroke="#4877B1" stroke-width="3.3"/>
<path d="M334.70 783.94L352.65 770.06" fill="none" stroke="#4877B1" stroke-width="3.3"/>
<path d="M316.98 768.24L331.72 750.97" fill="none" stroke="#4877B1" stroke-width="3.3"/>
<path d="M316.98 768.24L338.66 756.44" fill="none" stroke="#4877B1" stroke-width="3.3"/>
<path d="M364.32 857.71L386.96 857.71" fill="none" stroke="#B6292E" stroke-width="3.3"/>
<path d="M341.69 858.11L364.32 857.57" fill="none" stroke="#B6292E" stroke-width="3.3"/>
<path d="M228.99 924.45L221.59 945.84" fill="none" stroke="#609F3A" stroke-width="3.3"/>
<circle cx="154.07" cy="765.42" r="3.37" fill="#BDB92B" stroke="#222" stroke-width="0.9"/>
<circle cx="165.50" cy="754.98" r="3.37" fill="#BDB92B" stroke="#222" stroke-width="0.9"/>
<circle cx="177.03" cy="746.57" r="3.37" fill="#BDB92B" stroke="#222" stroke-width="0.9"/>
<circle cx="190.51" cy="738.84" r="3.37" fill="#BDB92B" stroke="#222" stroke-width="0.9"/>
<circle cx="205.03" cy="732.61" r="3.37" fill="#BDB92B" stroke="#222" stroke-width="0.9"/>
<circle cx="218.87" cy="728.43" r="3.37" fill="#BDB92B" stroke="#222" stroke-width="0.9"/>
<circle cx="234.12" cy="725.60" r="3.37" fill="#BDB92B" stroke="#222" stroke-width="0.9"/>
<circle cx="248.53" cy="724.55" r="3.37" fill="#BDB92B" stroke="#222" stroke-width="0.9"/>
<circle cx="142.55" cy="778.87" r="5.93" fill="#BDB92B" stroke="#222" stroke-width="0.9"/>
<circle cx="138.32" cy="784.83" r="6.67" fill="#BDB92B" stroke="#222" stroke-width="0.9"/>
<circle cx="134.90" cy="790.22" r="6.67" fill="#BDB92B" stroke="#222" stroke-width="0.9"/>
<circle cx="131.31" cy="796.55" r="6.67" fill="#BDB92B" stroke="#222" stroke-width="0.9"/>
<circle cx="115.82" cy="849.83" r="6.67" fill="#BDB92B" stroke="#222" stroke-width="0.9"/>
<circle cx="115.42" cy="859.88" r="6.67" fill="#BDB92B" stroke="#222" stroke-width="0.9"/>
<circle cx="262.75" cy="725.01" r="6.67" fill="#BDB92B" stroke="#222" stroke-width="0.9"/>
<circle cx="274.51" cy="726.54" r="3.37" fill="#BDB92B" stroke="#222" stroke-width="0.9"/>
<circle cx="289.68" cy="730.09" r="3.37" fill="#BDB92B" stroke="#222" stroke-width="0.9"/>
<circle cx="303.26" cy="734.90" r="3.37" fill="#BDB92B" stroke="#222" stroke-width="0.9"/>
<circle cx="316.19" cy="741.09" r="3.37" fill="#BDB92B" stroke="#222" stroke-width="0.9"/>
<circle cx="357.54" cy="775.87" r="6.67" fill="#BDB92B" stroke="#222" stroke-width="0.9"/>
<circle cx="360.89" cy="780.27" r="6.67" fill="#BDB92B" stroke="#222" stroke-width="0.9"/>
<circle cx="370.46" cy="795.40" r="3.37" fill="#BDB92B" stroke="#222" stroke-width="0.9"/>
<circle cx="377.05" cy="809.32" r="3.37" fill="#BDB92B" stroke="#222" stroke-width="0.9"/>
<circle cx="380.87" cy="820.01" r="3.37" fill="#BDB92B" stroke="#222" stroke-width="0.9"/>
<circle cx="384.18" cy="832.84" r="3.37" fill="#BDB92B" stroke="#222" stroke-width="0.9"/>
<circle cx="386.18" cy="845.60" r="6.23" fill="#BDB92B" stroke="#222" stroke-width="0.9"/>
<circle cx="386.30" cy="873.87" r="6.23" fill="#BDB92B" stroke="#222" stroke-width="0.9"/>
<circle cx="384.53" cy="885.96" r="6.67" fill="#BDB92B" stroke="#222" stroke-width="0.9"/>
<circle cx="382.95" cy="893.14" r="6.23" fill="#BDB92B" stroke="#222" stroke-width="0.9"/>
<circle cx="378.42" cy="907.74" r="6.67" fill="#BDB92B" stroke="#222" stroke-width="0.9"/>
<circle cx="373.27" cy="919.75" r="3.37" fill="#BDB92B" stroke="#222" stroke-width="0.9"/>
<circle cx="367.74" cy="929.97" r="6.67" fill="#BDB92B" stroke="#222" stroke-width="0.9"/>
<circle cx="363.74" cy="936.27" r="6.67" fill="#BDB92B" stroke="#222" stroke-width="0.9"/>
<circle cx="360.10" cy="941.40" r="5.93" fill="#BDB92B" stroke="#222" stroke-width="0.9"/>
<circle cx="355.72" cy="946.98" r="5.93" fill="#BDB92B" stroke="#222" stroke-width="0.9"/>
<circle cx="346.08" cy="957.42" r="5.93" fill="#BDB92B" stroke="#222" stroke-width="0.9"/>
<circle cx="333.44" cy="968.34" r="3.37" fill="#BDB92B" stroke="#222" stroke-width="0.9"/>
<circle cx="321.10" cy="976.70" r="3.37" fill="#BDB92B" stroke="#222" stroke-width="0.9"/>
<circle cx="313.76" cy="980.81" r="6.67" fill="#BDB92B" stroke="#222" stroke-width="0.9"/>
<circle cx="306.71" cy="984.22" r="6.67" fill="#BDB92B" stroke="#222" stroke-width="0.9"/>
<circle cx="232.28" cy="994.76" r="3.37" fill="#BDB92B" stroke="#222" stroke-width="0.9"/>
<circle cx="219.57" cy="992.34" r="3.37" fill="#BDB92B" stroke="#222" stroke-width="0.9"/>
<circle cx="194.65" cy="983.75" r="3.37" fill="#BDB92B" stroke="#222" stroke-width="0.9"/>
<circle cx="116.00" cy="872.78" r="3.37" fill="#BDB92B" stroke="#222" stroke-width="0.9"/>
<circle cx="118.32" cy="888.19" r="7.12" fill="#BDB92B" stroke="#222" stroke-width="0.9"/>
<circle cx="121.98" cy="902.00" r="3.37" fill="#BDB92B" stroke="#222" stroke-width="0.9"/>
<circle cx="127.57" cy="916.45" r="3.37" fill="#BDB92B" stroke="#222" stroke-width="0.9"/>
<circle cx="135.18" cy="930.84" r="6.67" fill="#BDB92B" stroke="#222" stroke-width="0.9"/>
<circle cx="139.24" cy="937.12" r="6.67" fill="#BDB92B" stroke="#222" stroke-width="0.9"/>
<circle cx="142.28" cy="941.37" r="6.67" fill="#BDB92B" stroke="#222" stroke-width="0.9"/>
<circle cx="147.03" cy="947.39" r="6.67" fill="#BDB92B" stroke="#222" stroke-width="0.9"/>
<circle cx="153.72" cy="954.82" r="6.67" fill="#BDB92B" stroke="#222" stroke-width="0.9"/>
<circle cx="160.57" cy="961.40" r="6.67" fill="#BDB92B" stroke="#222" stroke-width="0.9"/>
<circle cx="165.20" cy="965.37" r="6.67" fill="#BDB92B" stroke="#222" stroke-width="0.9"/>
<circle cx="170.90" cy="969.79" r="6.67" fill="#BDB92B" stroke="#222" stroke-width="0.9"/>
<circle cx="175.92" cy="973.30" r="6.67" fill="#BDB92B" stroke="#222" stroke-width="0.9"/>
<circle cx="243.15" cy="995.84" r="5.61" fill="#BDB92B" stroke="#222" stroke-width="0.9"/>
<circle cx="251.20" cy="996.08" r="6.05" fill="#BDB92B" stroke="#222" stroke-width="0.9"/>
<circle cx="256.89" cy="995.96" r="5.50" fill="#BDB92B" stroke="#222" stroke-width="0.9"/>
<circle cx="261.85" cy="995.66" r="6.05" fill="#BDB92B" stroke="#222" stroke-width="0.9"/>
<circle cx="267.75" cy="995.07" r="6.05" fill="#BDB92B" stroke="#222" stroke-width="0.9"/>
<circle cx="276.18" cy="993.76" r="6.16" fill="#BDB92B" stroke="#222" stroke-width="0.9"/>
<circle cx="282.67" cy="992.38" r="6.16" fill="#BDB92B" stroke="#222" stroke-width="0.9"/>
<circle cx="288.40" cy="990.89" r="6.60" fill="#BDB92B" stroke="#222" stroke-width="0.9"/>
<circle cx="295.41" cy="988.68" r="6.60" fill="#BDB92B" stroke="#222" stroke-width="0.9"/>
<circle cx="170.27" cy="781.22" r="3.37" fill="#BDB92B" stroke="#222" stroke-width="0.9"/>
<circle cx="179.72" cy="772.59" r="3.37" fill="#BDB92B" stroke="#222" stroke-width="0.9"/>
<circle cx="189.56" cy="765.42" r="3.37" fill="#BDB92B" stroke="#222" stroke-width="0.9"/>
<circle cx="200.84" cy="758.97" r="3.37" fill="#BDB92B" stroke="#222" stroke-width="0.9"/>
<circle cx="212.74" cy="753.89" r="3.37" fill="#BDB92B" stroke="#222" stroke-width="0.9"/>
<circle cx="224.20" cy="750.42" r="3.37" fill="#BDB92B" stroke="#222" stroke-width="0.9"/>
<circle cx="237.08" cy="748.03" r="3.37" fill="#BDB92B" stroke="#222" stroke-width="0.9"/>
<circle cx="248.93" cy="747.17" r="3.37" fill="#BDB92B" stroke="#222" stroke-width="0.9"/>
<circle cx="151.56" cy="806.68" r="6.67" fill="#BDB92B" stroke="#222" stroke-width="0.9"/>
<circle cx="138.48" cy="850.48" r="6.67" fill="#BDB92B" stroke="#222" stroke-width="0.9"/>
<circle cx="138.05" cy="859.88" r="6.67" fill="#BDB92B" stroke="#222" stroke-width="0.9"/>
<circle cx="260.76" cy="747.55" r="6.67" fill="#BDB92B" stroke="#222" stroke-width="0.9"/>
<circle cx="270.90" cy="748.88" r="3.37" fill="#BDB92B" stroke="#222" stroke-width="0.9"/>
<circle cx="283.00" cy="751.71" r="3.37" fill="#BDB92B" stroke="#222" stroke-width="0.9"/>
<circle cx="294.46" cy="755.74" r="3.37" fill="#BDB92B" stroke="#222" stroke-width="0.9"/>
<circle cx="305.22" cy="760.88" r="3.37" fill="#BDB92B" stroke="#222" stroke-width="0.9"/>
<circle cx="350.49" cy="806.04" r="3.37" fill="#BDB92B" stroke="#222" stroke-width="0.9"/>
<circle cx="356.08" cy="817.84" r="3.37" fill="#BDB92B" stroke="#222" stroke-width="0.9"/>
<circle cx="359.27" cy="826.76" r="3.37" fill="#BDB92B" stroke="#222" stroke-width="0.9"/>
<circle cx="361.91" cy="836.95" r="6.67" fill="#BDB92B" stroke="#222" stroke-width="0.9"/>
<circle cx="363.64" cy="847.67" r="6.67" fill="#BDB92B" stroke="#222" stroke-width="0.9"/>
<circle cx="363.83" cy="871.14" r="6.67" fill="#BDB92B" stroke="#222" stroke-width="0.9"/>
<circle cx="361.56" cy="885.27" r="7.41" fill="#BDB92B" stroke="#222" stroke-width="0.9"/>
<circle cx="357.32" cy="899.57" r="6.67" fill="#BDB92B" stroke="#222" stroke-width="0.9"/>
<circle cx="353.08" cy="909.53" r="6.67" fill="#BDB92B" stroke="#222" stroke-width="0.9"/>
<circle cx="348.40" cy="918.23" r="6.67" fill="#BDB92B" stroke="#222" stroke-width="0.9"/>
<circle cx="343.10" cy="926.31" r="7.41" fill="#BDB92B" stroke="#222" stroke-width="0.9"/>
<circle cx="333.42" cy="938.04" r="7.41" fill="#BDB92B" stroke="#222" stroke-width="0.9"/>
<circle cx="319.48" cy="950.53" r="3.37" fill="#BDB92B" stroke="#222" stroke-width="0.9"/>
<circle cx="309.16" cy="957.48" r="3.37" fill="#BDB92B" stroke="#222" stroke-width="0.9"/>
<circle cx="299.61" cy="962.57" r="7.41" fill="#BDB92B" stroke="#222" stroke-width="0.9"/>
<circle cx="265.96" cy="972.48" r="8.58" fill="#BDB92B" stroke="#222" stroke-width="0.9"/>
<circle cx="235.01" cy="972.29" r="6.67" fill="#BDB92B" stroke="#222" stroke-width="0.9"/>
<circle cx="213.86" cy="967.11" r="6.67" fill="#BDB92B" stroke="#222" stroke-width="0.9"/>
<circle cx="203.97" cy="963.12" r="3.37" fill="#BDB92B" stroke="#222" stroke-width="0.9"/>
<circle cx="224.27" cy="970.20" r="3.37" fill="#BDB92B" stroke="#222" stroke-width="0.9"/>
<circle cx="138.47" cy="870.07" r="6.67" fill="#BDB92B" stroke="#222" stroke-width="0.9"/>
<circle cx="140.45" cy="883.50" r="6.67" fill="#BDB92B" stroke="#222" stroke-width="0.9"/>
<circle cx="143.51" cy="895.01" r="3.37" fill="#BDB92B" stroke="#222" stroke-width="0.9"/>
<circle cx="148.20" cy="907.14" r="3.37" fill="#BDB92B" stroke="#222" stroke-width="0.9"/>
<circle cx="157.97" cy="924.41" r="7.41" fill="#BDB92B" stroke="#222" stroke-width="0.9"/>
<circle cx="173.10" cy="942.17" r="7.41" fill="#BDB92B" stroke="#222" stroke-width="0.9"/>
<circle cx="185.12" cy="952.15" r="6.67" fill="#BDB92B" stroke="#222" stroke-width="0.9"/>
<circle cx="186.27" cy="797.22" r="3.37" fill="#BDB92B" stroke="#222" stroke-width="0.9"/>
<circle cx="193.81" cy="790.30" r="6.23" fill="#BDB92B" stroke="#222" stroke-width="0.9"/>
<circle cx="201.80" cy="784.45" r="3.37" fill="#BDB92B" stroke="#222" stroke-width="0.9"/>
<circle cx="210.75" cy="779.32" r="3.37" fill="#BDB92B" stroke="#222" stroke-width="0.9"/>
<circle cx="220.54" cy="775.13" r="3.37" fill="#BDB92B" stroke="#222" stroke-width="0.9"/>
<circle cx="229.59" cy="772.40" r="3.37" fill="#BDB92B" stroke="#222" stroke-width="0.9"/>
<circle cx="239.80" cy="770.50" r="6.67" fill="#BDB92B" stroke="#222" stroke-width="0.9"/>
<circle cx="249.47" cy="769.80" r="3.37" fill="#BDB92B" stroke="#222" stroke-width="0.9"/>
<circle cx="161.01" cy="852.53" r="6.67" fill="#BDB92B" stroke="#222" stroke-width="0.9"/>
<circle cx="160.68" cy="859.88" r="6.67" fill="#BDB92B" stroke="#222" stroke-width="0.9"/>
<circle cx="258.75" cy="770.10" r="6.67" fill="#BDB92B" stroke="#222" stroke-width="0.9"/>
<circle cx="266.88" cy="771.15" r="6.23" fill="#BDB92B" stroke="#222" stroke-width="0.9"/>
<circle cx="276.98" cy="773.53" r="3.37" fill="#BDB92B" stroke="#222" stroke-width="0.9"/>
<circle cx="285.85" cy="776.67" r="3.37" fill="#BDB92B" stroke="#222" stroke-width="0.9"/>
<circle cx="294.58" cy="780.85" r="3.37" fill="#BDB92B" stroke="#222" stroke-width="0.9"/>
<circle cx="330.56" cy="816.77" r="6.67" fill="#BDB92B" stroke="#222" stroke-width="0.9"/>
<circle cx="334.88" cy="825.77" r="6.67" fill="#BDB92B" stroke="#222" stroke-width="0.9"/>
<circle cx="337.45" cy="832.82" r="6.67" fill="#BDB92B" stroke="#222" stroke-width="0.9"/>
<circle cx="339.77" cy="841.59" r="6.67" fill="#BDB92B" stroke="#222" stroke-width="0.9"/>
<circle cx="341.03" cy="849.11" r="6.67" fill="#BDB92B" stroke="#222" stroke-width="0.9"/>
<circle cx="341.29" cy="869.13" r="6.67" fill="#BDB92B" stroke="#222" stroke-width="0.9"/>
<circle cx="339.71" cy="879.29" r="7.41" fill="#BDB92B" stroke="#222" stroke-width="0.9"/>
<circle cx="336.21" cy="891.39" r="7.41" fill="#BDB92B" stroke="#222" stroke-width="0.9"/>
<circle cx="332.44" cy="900.22" r="6.67" fill="#BDB92B" stroke="#222" stroke-width="0.9"/>
<circle cx="322.67" cy="915.85" r="8.15" fill="#BDB92B" stroke="#222" stroke-width="0.9"/>
<circle cx="306.01" cy="932.34" r="3.37" fill="#BDB92B" stroke="#222" stroke-width="0.9"/>
<circle cx="297.72" cy="937.95" r="6.67" fill="#BDB92B" stroke="#222" stroke-width="0.9"/>
<circle cx="290.56" cy="941.81" r="7.41" fill="#BDB92B" stroke="#222" stroke-width="0.9"/>
<circle cx="260.18" cy="950.37" r="8.80" fill="#BDB92B" stroke="#222" stroke-width="0.9"/>
<circle cx="230.24" cy="948.36" r="5.93" fill="#BDB92B" stroke="#222" stroke-width="0.9"/>
<circle cx="213.28" cy="942.49" r="3.37" fill="#BDB92B" stroke="#222" stroke-width="0.9"/>
<circle cx="161.07" cy="868.75" r="6.67" fill="#BDB92B" stroke="#222" stroke-width="0.9"/>
<circle cx="162.59" cy="878.80" r="6.67" fill="#BDB92B" stroke="#222" stroke-width="0.9"/>
<circle cx="165.11" cy="888.26" r="3.37" fill="#BDB92B" stroke="#222" stroke-width="0.9"/>
<circle cx="168.71" cy="897.57" r="6.67" fill="#BDB92B" stroke="#222" stroke-width="0.9"/>
<circle cx="177.23" cy="912.47" r="7.41" fill="#BDB92B" stroke="#222" stroke-width="0.9"/>
<circle cx="193.38" cy="929.95" r="7.41" fill="#BDB92B" stroke="#222" stroke-width="0.9"/>
<circle cx="205.31" cy="938.33" r="6.67" fill="#BDB92B" stroke="#222" stroke-width="0.9"/>
<circle cx="202.54" cy="812.95" r="3.37" fill="#BDB92B" stroke="#222" stroke-width="0.9"/>
<circle cx="208.43" cy="807.57" r="6.23" fill="#BDB92B" stroke="#222" stroke-width="0.9"/>
<circle cx="214.51" cy="803.18" r="3.37" fill="#BDB92B" stroke="#222" stroke-width="0.9"/>
<circle cx="220.98" cy="799.51" r="3.37" fill="#BDB92B" stroke="#222" stroke-width="0.9"/>
<circle cx="228.27" cy="796.40" r="3.37" fill="#BDB92B" stroke="#222" stroke-width="0.9"/>
<circle cx="234.95" cy="794.38" r="3.37" fill="#BDB92B" stroke="#222" stroke-width="0.9"/>
<circle cx="242.44" cy="792.98" r="7.12" fill="#BDB92B" stroke="#222" stroke-width="0.9"/>
<circle cx="249.88" cy="792.42" r="6.67" fill="#BDB92B" stroke="#222" stroke-width="0.9"/>
<circle cx="183.31" cy="860.55" r="6.67" fill="#BDB92B" stroke="#222" stroke-width="0.9"/>
<circle cx="258.77" cy="792.83" r="6.67" fill="#BDB92B" stroke="#222" stroke-width="0.9"/>
<circle cx="269.71" cy="794.98" r="3.37" fill="#BDB92B" stroke="#222" stroke-width="0.9"/>
<circle cx="276.95" cy="797.48" r="6.23" fill="#BDB92B" stroke="#222" stroke-width="0.9"/>
<circle cx="283.76" cy="800.73" r="3.37" fill="#BDB92B" stroke="#222" stroke-width="0.9"/>
<circle cx="310.75" cy="827.70" r="6.67" fill="#BDB92B" stroke="#222" stroke-width="0.9"/>
<circle cx="314.52" cy="835.80" r="6.67" fill="#BDB92B" stroke="#222" stroke-width="0.9"/>
<circle cx="317.64" cy="846.34" r="6.67" fill="#BDB92B" stroke="#222" stroke-width="0.9"/>
<circle cx="318.83" cy="854.35" r="6.67" fill="#BDB92B" stroke="#222" stroke-width="0.9"/>
<circle cx="318.81" cy="866.45" r="6.67" fill="#BDB92B" stroke="#222" stroke-width="0.9"/>
<circle cx="317.73" cy="873.81" r="7.41" fill="#BDB92B" stroke="#222" stroke-width="0.9"/>
<circle cx="314.89" cy="883.81" r="7.41" fill="#BDB92B" stroke="#222" stroke-width="0.9"/>
<circle cx="307.16" cy="898.73" r="8.15" fill="#BDB92B" stroke="#222" stroke-width="0.9"/>
<circle cx="292.28" cy="914.35" r="3.37" fill="#BDB92B" stroke="#222" stroke-width="0.9"/>
<circle cx="283.67" cy="919.92" r="7.41" fill="#BDB92B" stroke="#222" stroke-width="0.9"/>
<circle cx="258.80" cy="927.76" r="8.15" fill="#BDB92B" stroke="#222" stroke-width="0.9"/>
<circle cx="236.50" cy="926.58" r="6.67" fill="#BDB92B" stroke="#222" stroke-width="0.9"/>
<circle cx="184.60" cy="873.46" r="6.67" fill="#BDB92B" stroke="#222" stroke-width="0.9"/>
<circle cx="186.51" cy="880.90" r="6.67" fill="#BDB92B" stroke="#222" stroke-width="0.9"/>
<circle cx="189.33" cy="888.26" r="6.67" fill="#BDB92B" stroke="#222" stroke-width="0.9"/>
<circle cx="204.08" cy="909.17" r="8.15" fill="#BDB92B" stroke="#222" stroke-width="0.9"/>
<circle cx="222.62" cy="921.88" r="6.67" fill="#BDB92B" stroke="#222" stroke-width="0.9"/>
<circle cx="218.75" cy="828.75" r="3.37" fill="#BDB92B" stroke="#222" stroke-width="0.9"/>
<circle cx="223.73" cy="824.33" r="6.23" fill="#BDB92B" stroke="#222" stroke-width="0.9"/>
<circle cx="230.88" cy="819.86" r="3.37" fill="#BDB92B" stroke="#222" stroke-width="0.9"/>
<circle cx="239.54" cy="816.57" r="6.67" fill="#BDB92B" stroke="#222" stroke-width="0.9"/>
<circle cx="247.79" cy="815.17" r="6.67" fill="#BDB92B" stroke="#222" stroke-width="0.9"/>
<circle cx="256.74" cy="815.38" r="6.67" fill="#BDB92B" stroke="#222" stroke-width="0.9"/>
<circle cx="263.48" cy="816.74" r="6.67" fill="#BDB92B" stroke="#222" stroke-width="0.9"/>
<circle cx="269.17" cy="818.76" r="6.23" fill="#BDB92B" stroke="#222" stroke-width="0.9"/>
<circle cx="273.80" cy="821.09" r="6.23" fill="#BDB92B" stroke="#222" stroke-width="0.9"/>
<circle cx="291.06" cy="838.86" r="6.67" fill="#BDB92B" stroke="#222" stroke-width="0.9"/>
<circle cx="295.18" cy="849.61" r="7.12" fill="#BDB92B" stroke="#222" stroke-width="0.9"/>
<circle cx="296.21" cy="865.09" r="6.67" fill="#BDB92B" stroke="#222" stroke-width="0.9"/>
<circle cx="290.97" cy="881.90" r="8.15" fill="#BDB92B" stroke="#222" stroke-width="0.9"/>
<circle cx="278.19" cy="896.64" r="6.67" fill="#BDB92B" stroke="#222" stroke-width="0.9"/>
<circle cx="272.21" cy="900.39" r="6.67" fill="#BDB92B" stroke="#222" stroke-width="0.9"/>
<circle cx="233.78" cy="902.07" r="8.15" fill="#BDB92B" stroke="#222" stroke-width="0.9"/>
<circle cx="206.87" cy="869.41" r="6.67" fill="#BDB92B" stroke="#222" stroke-width="0.9"/>
<circle cx="208.11" cy="874.15" r="6.67" fill="#BDB92B" stroke="#222" stroke-width="0.9"/>
<circle cx="255.93" cy="905.31" r="0.00" fill="#BDB92B" stroke="#222" stroke-width="0.9"/>
<circle cx="273.34" cy="855.59" r="5.94" fill="#BDB92B" stroke="#222" stroke-width="0.9"/>
<circle cx="271.87" cy="851.10" r="5.94" fill="#BDB92B" stroke="#222" stroke-width="0.9"/>
<circle cx="252.62" cy="837.71" r="5.94" fill="#BDB92B" stroke="#222" stroke-width="0.9"/>
<circle cx="249.86" cy="837.71" r="5.94" fill="#BDB92B" stroke="#222" stroke-width="0.9"/>
<circle cx="246.49" cy="838.16" r="5.94" fill="#BDB92B" stroke="#222" stroke-width="0.9"/>
<circle cx="243.09" cy="839.17" r="5.94" fill="#BDB92B" stroke="#222" stroke-width="0.9"/>
<circle cx="240.09" cy="840.58" r="5.94" fill="#BDB92B" stroke="#222" stroke-width="0.9"/>
<circle cx="235.25" cy="844.24" r="5.94" fill="#BDB92B" stroke="#222" stroke-width="0.9"/>
<circle cx="229.74" cy="867.48" r="6.82" fill="#BDB92B" stroke="#222" stroke-width="0.9"/>
<circle cx="254.74" cy="882.65" r="8.36" fill="#BDB92B" stroke="#222" stroke-width="0.9"/>
<circle cx="273.71" cy="862.67" r="6.60" fill="#BDB92B" stroke="#222" stroke-width="0.9"/>
<circle cx="125.80" cy="808.23" r="6.67" fill="#B6292E" stroke="#000" stroke-width="1.9"/>
<circle cx="123.50" cy="814.17" r="6.67" fill="#B6292E" stroke="#000" stroke-width="1.9"/>
<circle cx="121.47" cy="820.21" r="6.67" fill="#B6292E" stroke="#000" stroke-width="1.9"/>
<circle cx="119.94" cy="825.54" r="6.67" fill="#B6292E" stroke="#000" stroke-width="1.9"/>
<circle cx="118.63" cy="830.94" r="6.67" fill="#B6292E" stroke="#000" stroke-width="1.9"/>
<circle cx="117.10" cy="838.99" r="7.41" fill="#B6292E" stroke="#000" stroke-width="1.9"/>
<circle cx="325.96" cy="746.95" r="8.15" fill="#609F3A" stroke="#000" stroke-width="1.9"/>
<circle cx="331.72" cy="750.97" r="6.67" fill="#4877B1" stroke="#000" stroke-width="1.9"/>
<circle cx="338.66" cy="756.44" r="7.41" fill="#4877B1" stroke="#000" stroke-width="1.9"/>
<circle cx="344.34" cy="761.50" r="6.67" fill="#4877B1" stroke="#000" stroke-width="1.9"/>
<circle cx="352.65" cy="770.06" r="6.67" fill="#4877B1" stroke="#000" stroke-width="1.9"/>
<circle cx="386.96" cy="857.71" r="7.41" fill="#B6292E" stroke="#000" stroke-width="1.9"/>
<circle cx="350.72" cy="952.66" r="6.67" fill="#E17F24" stroke="#000" stroke-width="1.9"/>
<circle cx="206.71" cy="988.59" r="7.12" fill="#609F3A" stroke="#000" stroke-width="1.9"/>
<circle cx="182.66" cy="977.51" r="6.67" fill="#E17F24" stroke="#000" stroke-width="1.9"/>
<circle cx="157.89" cy="796.30" r="6.67" fill="#609F3A" stroke="#000" stroke-width="1.9"/>
<circle cx="142.52" cy="828.82" r="8.15" fill="#B6292E" stroke="#000" stroke-width="1.9"/>
<circle cx="334.70" cy="783.94" r="8.15" fill="#4877B1" stroke="#000" stroke-width="1.9"/>
<circle cx="316.98" cy="768.24" r="8.15" fill="#4877B1" stroke="#000" stroke-width="1.9"/>
<circle cx="364.32" cy="857.71" r="7.41" fill="#B6292E" stroke="#000" stroke-width="1.9"/>
<circle cx="194.10" cy="957.99" r="6.67" fill="#609F3A" stroke="#000" stroke-width="1.9"/>
<circle cx="174.26" cy="812.62" r="6.67" fill="#E17F24" stroke="#000" stroke-width="1.9"/>
<circle cx="164.12" cy="835.57" r="8.15" fill="#B6292E" stroke="#000" stroke-width="1.9"/>
<circle cx="313.49" cy="794.62" r="8.15" fill="#4877B1" stroke="#000" stroke-width="1.9"/>
<circle cx="341.69" cy="858.11" r="7.41" fill="#B6292E" stroke="#000" stroke-width="1.9"/>
<circle cx="221.63" cy="945.86" r="7.12" fill="#609F3A" stroke="#000" stroke-width="1.9"/>
<circle cx="188.41" cy="834.49" r="8.15" fill="#B6292E" stroke="#000" stroke-width="1.9"/>
<circle cx="297.84" cy="810.96" r="8.15" fill="#4877B1" stroke="#000" stroke-width="1.9"/>
<circle cx="228.99" cy="924.45" r="7.12" fill="#609F3A" stroke="#000" stroke-width="1.9"/>
<circle cx="207.37" cy="849.01" r="8.15" fill="#B6292E" stroke="#000" stroke-width="1.9"/>
<circle cx="281.91" cy="827.06" r="8.15" fill="#4877B1" stroke="#000" stroke-width="1.9"/>
<circle cx="229.25" cy="854.79" r="8.15" fill="#B6292E" stroke="#000" stroke-width="1.9"/>
<circle cx="264.00" cy="841.64" r="8.15" fill="#4877B1" stroke="#000" stroke-width="1.9"/>
<circle cx="251.2" cy="860.3" r="1.6" fill="#BDB92B"/>
<text x="27.7" y="796.2" font-family="Liberation Serif,serif" font-size="13" fill="#B01CC8" text-anchor="middle" dominant-baseline="central" transform="rotate(-74.0 27.7 796.2)">a0</text>
<text x="41.6" y="802.2" font-family="Liberation Serif,serif" font-size="13" fill="#B01CC8" text-anchor="middle" dominant-baseline="central" transform="rotate(-74.5 41.6 802.2)">z</text>
<text x="65.1" y="780.5" font-family="Liberation Serif,serif" font-size="13" fill="#B01CC8" text-anchor="middle" dominant-baseline="central" transform="rotate(-66.8 65.1 780.5)">y</text>
<text x="70.7" y="809.6" font-family="Liberation Serif,serif" font-size="13" fill="#B01CC8" text-anchor="middle" dominant-baseline="central" transform="rotate(-74.3 70.7 809.6)">x</text>
<text x="84.5" y="812.2" font-family="Liberation Serif,serif" font-size="13" fill="#B01CC8" text-anchor="middle" dominant-baseline="central" transform="rotate(-73.9 84.5 812.2)">w</text>
<text x="91.3" y="760.4" font-family="Liberation Serif,serif" font-size="13" fill="#2F4F1F" text-anchor="middle" dominant-baseline="central" transform="rotate(-58.0 91.3 760.4)">p</text>
<text x="108.2" y="762.0" font-family="Liberation Serif,serif" font-size="13" fill="#1A1A8C" text-anchor="middle" dominant-baseline="central" transform="rotate(-55.5 108.2 762.0)">o</text>
<text x="104.8" y="799.6" font-family="Liberation Serif,serif" font-size="13" fill="#B01CC8" text-anchor="middle" dominant-baseline="central" transform="rotate(-67.5 104.8 799.6)">q</text>
<text x="102.6" y="805.1" font-family="Liberation Serif,serif" font-size="13" fill="#B01CC8" text-anchor="middle" dominant-baseline="central" transform="rotate(-69.6 102.6 805.1)">r</text>
<text x="100.6" y="810.8" font-family="Liberation Serif,serif" font-size="13" fill="#B01CC8" text-anchor="middle" dominant-baseline="central" transform="rotate(-71.8 100.6 810.8)">s</text>
<text x="99.0" y="816.1" font-family="Liberation Serif,serif" font-size="13" fill="#B01CC8" text-anchor="middle" dominant-baseline="central" transform="rotate(-73.8 99.0 816.1)">t</text>
<text x="97.0" y="823.8" font-family="Liberation Serif,serif" font-size="13" fill="#B01CC8" text-anchor="middle" dominant-baseline="central" transform="rotate(-76.7 97.0 823.8)">u</text>
<text x="94.6" y="835.8" font-family="Liberation Serif,serif" font-size="13" fill="#B01CC8" text-anchor="middle" dominant-baseline="central" transform="rotate(-81.1 94.6 835.8)">v</text>
<text x="385.2" y="670.3" font-family="Liberation Serif,serif" font-size="13" fill="#7A0A0A" text-anchor="middle" dominant-baseline="central" transform="rotate(35.2 385.2 670.3)">n</text>
<text x="401.7" y="703.3" font-family="Liberation Serif,serif" font-size="13" fill="#7A0A0A" text-anchor="middle" dominant-baseline="central" transform="rotate(43.8 401.7 703.3)">m</text>
<text x="393.8" y="715.2" font-family="Liberation Serif,serif" font-size="13" fill="#7A0A0A" text-anchor="middle" dominant-baseline="central" transform="rotate(44.5 393.8 715.2)">l</text>
<text x="381.0" y="723.6" font-family="Liberation Serif,serif" font-size="13" fill="#7A0A0A" text-anchor="middle" dominant-baseline="central" transform="rotate(43.5 381.0 723.6)">k</text>
<text x="378.5" y="742.4" font-family="Liberation Serif,serif" font-size="13" fill="#7A0A0A" text-anchor="middle" dominant-baseline="central" transform="rotate(47.2 378.5 742.4)">g</text>
<text x="349.0" y="717.0" font-family="Liberation Serif,serif" font-size="13" fill="#7A0A0A" text-anchor="middle" dominant-baseline="central" transform="rotate(34.3 349.0 717.0)">j</text>
<text x="369.7" y="755.1" font-family="Liberation Serif,serif" font-size="13" fill="#7A0A0A" text-anchor="middle" dominant-baseline="central" transform="rotate(48.4 369.7 755.1)">d</text>
<text x="359.9" y="744.9" font-family="Liberation Serif,serif" font-size="13" fill="#7A0A0A" text-anchor="middle" dominant-baseline="central" transform="rotate(43.3 359.9 744.9)">e</text>
<text x="353.3" y="739.1" font-family="Liberation Serif,serif" font-size="13" fill="#7A0A0A" text-anchor="middle" dominant-baseline="central" transform="rotate(40.1 353.3 739.1)">f</text>
<text x="345.3" y="732.7" font-family="Liberation Serif,serif" font-size="13" fill="#7A0A0A" text-anchor="middle" dominant-baseline="central" transform="rotate(36.4 345.3 732.7)">h</text>
<text x="338.5" y="728.0" font-family="Liberation Serif,serif" font-size="13" fill="#1A1A8C" text-anchor="middle" dominant-baseline="central" transform="rotate(33.4 338.5 728.0)">i</text>
<text x="439.7" y="856.7" font-family="Liberation Serif,serif" font-size="13" fill="#B01CC8" text-anchor="middle" dominant-baseline="central" transform="rotate(88.9 439.7 856.7)">c</text>
<text x="424.7" y="857.0" font-family="Liberation Serif,serif" font-size="13" fill="#B01CC8" text-anchor="middle" dominant-baseline="central" transform="rotate(88.9 424.7 857.0)">b</text>
<text x="409.7" y="857.3" font-family="Liberation Serif,serif" font-size="13" fill="#B01CC8" text-anchor="middle" dominant-baseline="central" transform="rotate(88.9 409.7 857.3)">a</text>
<text x="184.9" y="1052.7" font-family="Liberation Serif,serif" font-size="13" fill="#1A1A8C" text-anchor="middle" dominant-baseline="central" transform="rotate(-161.0 184.9 1052.7)">a5</text>
<text x="189.8" y="1038.5" font-family="Liberation Serif,serif" font-size="13" fill="#1A1A8C" text-anchor="middle" dominant-baseline="central" transform="rotate(-161.0 189.8 1038.5)">a4</text>
<text x="199.3" y="1011.1" font-family="Liberation Serif,serif" font-size="13" fill="#1A1A8C" text-anchor="middle" dominant-baseline="central" transform="rotate(-161.0 199.3 1011.1)">a3</text>
<text x="164.2" y="1010.4" font-family="Liberation Serif,serif" font-size="13" fill="#1A1A8C" text-anchor="middle" dominant-baseline="central" transform="rotate(-149.9 164.2 1010.4)">a2</text>
<text x="171.7" y="997.4" font-family="Liberation Serif,serif" font-size="13" fill="#2F4F1F" text-anchor="middle" dominant-baseline="central" transform="rotate(-149.9 171.7 997.4)">a1</text>
<text x="367.1" y="968.4" font-family="Liberation Serif,serif" font-size="13" fill="#2F4F1F" text-anchor="middle" dominant-baseline="central" transform="rotate(-227.0 367.1 968.4)">a6</text>
</svg></body></html>
